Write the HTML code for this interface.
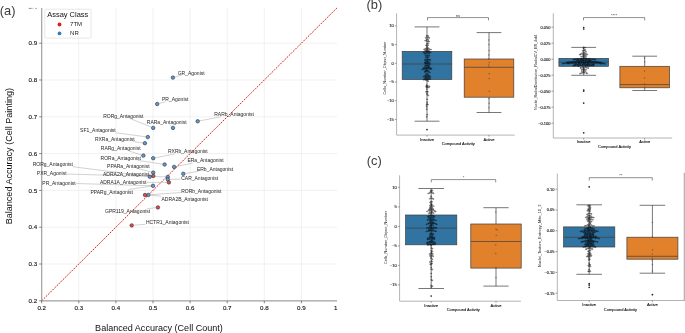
<!DOCTYPE html>
<html><head><meta charset="utf-8"><style>
html,body{margin:0;padding:0;background:#fff;width:685px;height:333px;overflow:hidden}
svg{display:block;font-family:"Liberation Sans", sans-serif;will-change:transform}
</style></head><body>
<svg width="685" height="333" viewBox="0 0 685 333">
<line x1="78.80" y1="8.0" x2="78.80" y2="300.8" stroke="#ebebeb" stroke-width="0.7"/>
<line x1="41.7" y1="264.00" x2="337.0" y2="264.00" stroke="#ebebeb" stroke-width="0.7"/>
<line x1="115.90" y1="8.0" x2="115.90" y2="300.8" stroke="#ebebeb" stroke-width="0.7"/>
<line x1="41.7" y1="227.20" x2="337.0" y2="227.20" stroke="#ebebeb" stroke-width="0.7"/>
<line x1="153.00" y1="8.0" x2="153.00" y2="300.8" stroke="#ebebeb" stroke-width="0.7"/>
<line x1="41.7" y1="190.40" x2="337.0" y2="190.40" stroke="#ebebeb" stroke-width="0.7"/>
<line x1="190.10" y1="8.0" x2="190.10" y2="300.8" stroke="#ebebeb" stroke-width="0.7"/>
<line x1="41.7" y1="153.60" x2="337.0" y2="153.60" stroke="#ebebeb" stroke-width="0.7"/>
<line x1="227.20" y1="8.0" x2="227.20" y2="300.8" stroke="#ebebeb" stroke-width="0.7"/>
<line x1="41.7" y1="116.80" x2="337.0" y2="116.80" stroke="#ebebeb" stroke-width="0.7"/>
<line x1="264.30" y1="8.0" x2="264.30" y2="300.8" stroke="#ebebeb" stroke-width="0.7"/>
<line x1="41.7" y1="80.00" x2="337.0" y2="80.00" stroke="#ebebeb" stroke-width="0.7"/>
<line x1="301.40" y1="8.0" x2="301.40" y2="300.8" stroke="#ebebeb" stroke-width="0.7"/>
<line x1="41.7" y1="43.20" x2="337.0" y2="43.20" stroke="#ebebeb" stroke-width="0.7"/>
<line x1="41.7" y1="300.8" x2="337.0" y2="7.89" stroke="#e41a1c" stroke-width="1.0" stroke-dasharray="1.9,1.1"/>
<line x1="41.7" y1="8.0" x2="41.7" y2="301.40000000000003" stroke="#a0a0a0" stroke-width="1.2"/>
<line x1="41.1" y1="300.8" x2="337.0" y2="300.8" stroke="#a0a0a0" stroke-width="1.2"/>
<line x1="39.2" y1="300.80" x2="41.7" y2="300.80" stroke="#555" stroke-width="0.7"/>
<text x="37.10" y="303.00" font-size="6.2" text-anchor="end" fill="#111" stroke="#111" stroke-width="0.12">0.2</text>
<line x1="41.70" y1="300.8" x2="41.70" y2="303.3" stroke="#555" stroke-width="0.7"/>
<text x="41.70" y="309.80" font-size="6.2" text-anchor="middle" fill="#111" stroke="#111" stroke-width="0.12">0.2</text>
<line x1="39.2" y1="264.00" x2="41.7" y2="264.00" stroke="#555" stroke-width="0.7"/>
<text x="37.10" y="266.20" font-size="6.2" text-anchor="end" fill="#111" stroke="#111" stroke-width="0.12">0.3</text>
<line x1="78.80" y1="300.8" x2="78.80" y2="303.3" stroke="#555" stroke-width="0.7"/>
<text x="78.80" y="309.80" font-size="6.2" text-anchor="middle" fill="#111" stroke="#111" stroke-width="0.12">0.3</text>
<line x1="39.2" y1="227.20" x2="41.7" y2="227.20" stroke="#555" stroke-width="0.7"/>
<text x="37.10" y="229.40" font-size="6.2" text-anchor="end" fill="#111" stroke="#111" stroke-width="0.12">0.4</text>
<line x1="115.90" y1="300.8" x2="115.90" y2="303.3" stroke="#555" stroke-width="0.7"/>
<text x="115.90" y="309.80" font-size="6.2" text-anchor="middle" fill="#111" stroke="#111" stroke-width="0.12">0.4</text>
<line x1="39.2" y1="190.40" x2="41.7" y2="190.40" stroke="#555" stroke-width="0.7"/>
<text x="37.10" y="192.60" font-size="6.2" text-anchor="end" fill="#111" stroke="#111" stroke-width="0.12">0.5</text>
<line x1="153.00" y1="300.8" x2="153.00" y2="303.3" stroke="#555" stroke-width="0.7"/>
<text x="153.00" y="309.80" font-size="6.2" text-anchor="middle" fill="#111" stroke="#111" stroke-width="0.12">0.5</text>
<line x1="39.2" y1="153.60" x2="41.7" y2="153.60" stroke="#555" stroke-width="0.7"/>
<text x="37.10" y="155.80" font-size="6.2" text-anchor="end" fill="#111" stroke="#111" stroke-width="0.12">0.6</text>
<line x1="190.10" y1="300.8" x2="190.10" y2="303.3" stroke="#555" stroke-width="0.7"/>
<text x="190.10" y="309.80" font-size="6.2" text-anchor="middle" fill="#111" stroke="#111" stroke-width="0.12">0.6</text>
<line x1="39.2" y1="116.80" x2="41.7" y2="116.80" stroke="#555" stroke-width="0.7"/>
<text x="37.10" y="119.00" font-size="6.2" text-anchor="end" fill="#111" stroke="#111" stroke-width="0.12">0.7</text>
<line x1="227.20" y1="300.8" x2="227.20" y2="303.3" stroke="#555" stroke-width="0.7"/>
<text x="227.20" y="309.80" font-size="6.2" text-anchor="middle" fill="#111" stroke="#111" stroke-width="0.12">0.7</text>
<line x1="39.2" y1="80.00" x2="41.7" y2="80.00" stroke="#555" stroke-width="0.7"/>
<text x="37.10" y="82.20" font-size="6.2" text-anchor="end" fill="#111" stroke="#111" stroke-width="0.12">0.8</text>
<line x1="264.30" y1="300.8" x2="264.30" y2="303.3" stroke="#555" stroke-width="0.7"/>
<text x="264.30" y="309.80" font-size="6.2" text-anchor="middle" fill="#111" stroke="#111" stroke-width="0.12">0.8</text>
<line x1="39.2" y1="43.20" x2="41.7" y2="43.20" stroke="#555" stroke-width="0.7"/>
<text x="37.10" y="45.40" font-size="6.2" text-anchor="end" fill="#111" stroke="#111" stroke-width="0.12">0.9</text>
<line x1="301.40" y1="300.8" x2="301.40" y2="303.3" stroke="#555" stroke-width="0.7"/>
<text x="301.40" y="309.80" font-size="6.2" text-anchor="middle" fill="#111" stroke="#111" stroke-width="0.12">0.9</text>
<clipPath id="ca"><rect x="0" y="0" width="337.3" height="333"/></clipPath><text clip-path="url(#ca)" x="338.20" y="309.80" font-size="6.2" text-anchor="middle" fill="#111" stroke="#111" stroke-width="0.12">1.0</text>
<rect x="28.8" y="7.9" width="2.9" height="0.9" fill="#808080"/><rect x="31.7" y="7.9" width="2.2" height="0.9" fill="#d0d0d0"/><rect x="35.1" y="7.9" width="1.8" height="0.9" fill="#a0a0a0"/>
<text x="95.1" y="331" font-size="9.05" fill="#111">Balanced Accuracy (Cell Count)</text>
<text transform="translate(12.4,224.3) rotate(-90)" font-size="9.05" fill="#111">Balanced Accuracy (Cell Painting)</text>
<text x="-0.2" y="14.7" font-size="12.8" fill="#3a3a3a">(a)</text>
<line x1="181.48" y1="75.30" x2="174.83" y2="77.08" stroke="#9a9a9a" stroke-width="0.45"/>
<line x1="165.45" y1="101.80" x2="159.13" y2="103.48" stroke="#9a9a9a" stroke-width="0.45"/>
<line x1="129.76" y1="118.40" x2="151.35" y2="127.15" stroke="#9a9a9a" stroke-width="0.45"/>
<line x1="169.46" y1="124.60" x2="171.54" y2="126.54" stroke="#9a9a9a" stroke-width="0.45"/>
<line x1="220.75" y1="116.80" x2="199.66" y2="120.92" stroke="#9a9a9a" stroke-width="0.45"/>
<line x1="116.18" y1="132.79" x2="145.82" y2="136.83" stroke="#9a9a9a" stroke-width="0.45"/>
<line x1="132.99" y1="141.50" x2="142.92" y2="142.92" stroke="#9a9a9a" stroke-width="0.45"/>
<line x1="128.77" y1="150.90" x2="141.50" y2="154.99" stroke="#9a9a9a" stroke-width="0.45"/>
<line x1="174.62" y1="154.00" x2="155.16" y2="157.82" stroke="#9a9a9a" stroke-width="0.45"/>
<line x1="137.52" y1="160.30" x2="162.62" y2="164.19" stroke="#9a9a9a" stroke-width="0.45"/>
<line x1="192.72" y1="163.10" x2="176.06" y2="166.50" stroke="#9a9a9a" stroke-width="0.45"/>
<line x1="198.50" y1="171.40" x2="185.28" y2="173.49" stroke="#9a9a9a" stroke-width="0.45"/>
<line x1="72.85" y1="166.70" x2="147.82" y2="176.44" stroke="#9a9a9a" stroke-width="0.45"/>
<line x1="137.97" y1="168.50" x2="151.27" y2="172.08" stroke="#9a9a9a" stroke-width="0.45"/>
<line x1="67.04" y1="174.04" x2="165.80" y2="176.84" stroke="#9a9a9a" stroke-width="0.45"/>
<line x1="149.91" y1="175.66" x2="151.30" y2="175.76" stroke="#9a9a9a" stroke-width="0.45"/>
<line x1="180.70" y1="179.14" x2="169.80" y2="179.44" stroke="#9a9a9a" stroke-width="0.45"/>
<line x1="76.15" y1="183.51" x2="151.00" y2="185.74" stroke="#9a9a9a" stroke-width="0.45"/>
<line x1="146.81" y1="182.40" x2="166.90" y2="182.40" stroke="#9a9a9a" stroke-width="0.45"/>
<line x1="180.70" y1="192.52" x2="150.29" y2="194.75" stroke="#9a9a9a" stroke-width="0.45"/>
<line x1="128.70" y1="189.50" x2="151.02" y2="186.10" stroke="#9a9a9a" stroke-width="0.45"/>
<line x1="161.00" y1="196.26" x2="150.29" y2="195.11" stroke="#9a9a9a" stroke-width="0.45"/>
<line x1="146.82" y1="208.90" x2="155.92" y2="207.67" stroke="#9a9a9a" stroke-width="0.45"/>
<line x1="145.40" y1="224.29" x2="133.69" y2="225.24" stroke="#9a9a9a" stroke-width="0.45"/>
<circle cx="172.9" cy="77.6" r="1.75" fill="#5b9bd5" stroke="#2b2b2b" stroke-width="0.6"/>
<circle cx="157.2" cy="104.0" r="1.75" fill="#5b9bd5" stroke="#2b2b2b" stroke-width="0.6"/>
<circle cx="153.2" cy="127.9" r="1.75" fill="#5b9bd5" stroke="#2b2b2b" stroke-width="0.6"/>
<circle cx="173.0" cy="127.9" r="1.75" fill="#5b9bd5" stroke="#2b2b2b" stroke-width="0.6"/>
<circle cx="197.7" cy="121.3" r="1.75" fill="#5b9bd5" stroke="#2b2b2b" stroke-width="0.6"/>
<circle cx="147.8" cy="137.1" r="1.75" fill="#5b9bd5" stroke="#2b2b2b" stroke-width="0.6"/>
<circle cx="144.9" cy="143.2" r="1.75" fill="#5b9bd5" stroke="#2b2b2b" stroke-width="0.6"/>
<circle cx="143.4" cy="155.6" r="1.75" fill="#5b9bd5" stroke="#2b2b2b" stroke-width="0.6"/>
<circle cx="153.2" cy="158.2" r="1.75" fill="#5b9bd5" stroke="#2b2b2b" stroke-width="0.6"/>
<circle cx="164.6" cy="164.5" r="1.75" fill="#5b9bd5" stroke="#2b2b2b" stroke-width="0.6"/>
<circle cx="174.1" cy="166.9" r="1.75" fill="#5b9bd5" stroke="#2b2b2b" stroke-width="0.6"/>
<circle cx="183.3" cy="173.8" r="1.75" fill="#5b9bd5" stroke="#2b2b2b" stroke-width="0.6"/>
<circle cx="153.2" cy="172.6" r="1.75" fill="#5b9bd5" stroke="#2b2b2b" stroke-width="0.6"/>
<circle cx="149.8" cy="176.7" r="1.75" fill="#5b9bd5" stroke="#2b2b2b" stroke-width="0.6"/>
<circle cx="167.8" cy="176.9" r="1.75" fill="#5b9bd5" stroke="#2b2b2b" stroke-width="0.6"/>
<circle cx="167.8" cy="179.5" r="1.75" fill="#5b9bd5" stroke="#2b2b2b" stroke-width="0.6"/>
<circle cx="153.0" cy="185.8" r="1.75" fill="#5b9bd5" stroke="#2b2b2b" stroke-width="0.6"/>
<circle cx="148.3" cy="194.9" r="1.75" fill="#5b9bd5" stroke="#2b2b2b" stroke-width="0.6"/>
<circle cx="153.3" cy="175.9" r="1.75" fill="#e8474c" stroke="#2b2b2b" stroke-width="0.6"/>
<circle cx="168.9" cy="182.4" r="1.75" fill="#e8474c" stroke="#2b2b2b" stroke-width="0.6"/>
<circle cx="145.0" cy="195.0" r="1.75" fill="#e8474c" stroke="#2b2b2b" stroke-width="0.6"/>
<circle cx="157.9" cy="207.4" r="1.75" fill="#e8474c" stroke="#2b2b2b" stroke-width="0.6"/>
<circle cx="131.7" cy="225.4" r="1.75" fill="#e8474c" stroke="#2b2b2b" stroke-width="0.6"/>
<text x="177.70" y="74.50" font-size="5.0" fill="#262626">GR_Agonist</text>
<text x="162.00" y="101.00" font-size="5.0" fill="#262626">PR_Agonist</text>
<text x="103.20" y="117.60" font-size="5.0" fill="#262626">RORg_Antagonist</text>
<text x="146.80" y="123.80" font-size="5.0" fill="#262626">RARa_Antagonist</text>
<text x="214.20" y="116.00" font-size="5.0" fill="#262626">RARb_Antagonist</text>
<text x="80.10" y="132.10" font-size="5.0" fill="#262626">SF1_Antagonist</text>
<text x="94.90" y="140.70" font-size="5.0" fill="#262626">RXRa_Antagonist</text>
<text x="100.80" y="150.10" font-size="5.0" fill="#262626">RARg_Antagonist</text>
<text x="168.00" y="153.20" font-size="5.0" fill="#262626">RXRb_Antagonist</text>
<text x="100.60" y="159.50" font-size="5.0" fill="#262626">RORa_Antagonist</text>
<text x="187.40" y="162.30" font-size="5.0" fill="#262626">ERa_Antagonist</text>
<text x="196.90" y="170.60" font-size="5.0" fill="#262626">ERb_Antagonist</text>
<text x="32.70" y="165.90" font-size="5.0" fill="#262626">RORg_Antagonist</text>
<text x="107.10" y="167.70" font-size="5.0" fill="#262626">PPARa_Antagonist</text>
<text x="36.80" y="175.40" font-size="5.0" fill="#262626">PXR_Agonist</text>
<text x="103.00" y="175.80" font-size="5.0" fill="#262626">ADRA2A_Antagonist</text>
<text x="181.20" y="180.40" font-size="5.0" fill="#262626">CAR_Antagonist</text>
<text x="42.30" y="184.80" font-size="5.0" fill="#262626">PR_Antagonist</text>
<text x="99.90" y="184.20" font-size="5.0" fill="#262626">ADRA1A_Antagonist</text>
<text x="181.20" y="192.80" font-size="5.0" fill="#262626">RORb_Antagonist</text>
<text x="90.40" y="193.90" font-size="5.0" fill="#262626">PPARg_Antagonist</text>
<text x="161.50" y="200.60" font-size="5.0" fill="#262626">ADRA2B_Antagonist</text>
<text x="105.00" y="213.30" font-size="5.0" fill="#262626">GPR119_Antagonist</text>
<text x="145.90" y="224.30" font-size="5.0" fill="#262626">HCTR1_Antagonist</text>
<rect x="44.8" y="9.2" width="46.3" height="28.9" rx="1" fill="#fff" fill-opacity="0.85" stroke="#dcdcdc" stroke-width="0.7"/>
<text x="47.2" y="17.0" font-size="7.47" fill="#111">Assay Class</text>
<circle cx="59.5" cy="24.5" r="1.9" fill="#e41a1c"/>
<circle cx="59.5" cy="33.4" r="1.9" fill="#377eb8"/>
<text x="70.1" y="26.4" font-size="6.0" fill="#222">7TM</text>
<text x="70.1" y="35.3" font-size="6.0" fill="#222">NR</text>
<line x1="396.6" y1="13.2" x2="396.6" y2="135.1" stroke="#ababab" stroke-width="0.9"/>
<line x1="396.6" y1="135.1" x2="514.7" y2="135.1" stroke="#ababab" stroke-width="0.9"/>
<line x1="394.8" y1="25.9" x2="396.6" y2="25.9" stroke="#444" stroke-width="0.5"/>
<text x="393.8" y="27.299999999999997" font-size="4.0" text-anchor="end" fill="#111" stroke="#111" stroke-width="0.1">10</text>
<line x1="394.8" y1="44.6" x2="396.6" y2="44.6" stroke="#444" stroke-width="0.5"/>
<text x="393.8" y="46.0" font-size="4.0" text-anchor="end" fill="#111" stroke="#111" stroke-width="0.1">5</text>
<line x1="394.8" y1="63.3" x2="396.6" y2="63.3" stroke="#444" stroke-width="0.5"/>
<text x="393.8" y="64.7" font-size="4.0" text-anchor="end" fill="#111" stroke="#111" stroke-width="0.1">0</text>
<line x1="394.8" y1="82.0" x2="396.6" y2="82.0" stroke="#444" stroke-width="0.5"/>
<text x="393.8" y="83.4" font-size="4.0" text-anchor="end" fill="#111" stroke="#111" stroke-width="0.1">−5</text>
<line x1="394.8" y1="100.7" x2="396.6" y2="100.7" stroke="#444" stroke-width="0.5"/>
<text x="393.8" y="102.10000000000001" font-size="4.0" text-anchor="end" fill="#111" stroke="#111" stroke-width="0.1">−10</text>
<line x1="394.8" y1="119.4" x2="396.6" y2="119.4" stroke="#444" stroke-width="0.5"/>
<text x="393.8" y="120.80000000000001" font-size="4.0" text-anchor="end" fill="#111" stroke="#111" stroke-width="0.1">−15</text>
<line x1="427" y1="26.9" x2="427" y2="51.4" stroke="#3d3d3d" stroke-width="0.7"/>
<line x1="427" y1="79.5" x2="427" y2="121.2" stroke="#3d3d3d" stroke-width="0.7"/>
<line x1="414.6" y1="26.9" x2="439.4" y2="26.9" stroke="#3d3d3d" stroke-width="0.7"/>
<line x1="414.6" y1="121.2" x2="439.4" y2="121.2" stroke="#3d3d3d" stroke-width="0.7"/>
<rect x="402.2" y="51.4" width="49.6" height="28.1" fill="#3274a1" stroke="#3d3d3d" stroke-width="0.7"/>
<line x1="402.2" y1="64.0" x2="451.8" y2="64.0" stroke="#3d3d3d" stroke-width="0.7"/>
<circle cx="426.92" cy="35.63" r="0.5" fill="none" stroke="#000" stroke-width="0.42"/>
<circle cx="428.32" cy="36.12" r="0.5" fill="none" stroke="#000" stroke-width="0.42"/>
<circle cx="426.97" cy="36.93" r="0.5" fill="none" stroke="#000" stroke-width="0.42"/>
<circle cx="428.33" cy="37.73" r="0.5" fill="none" stroke="#000" stroke-width="0.42"/>
<circle cx="425.68" cy="37.76" r="0.5" fill="none" stroke="#000" stroke-width="0.42"/>
<circle cx="429.22" cy="37.96" r="0.5" fill="none" stroke="#000" stroke-width="0.42"/>
<circle cx="427.08" cy="39.01" r="0.5" fill="none" stroke="#000" stroke-width="0.42"/>
<circle cx="428.34" cy="39.97" r="0.5" fill="none" stroke="#000" stroke-width="0.42"/>
<circle cx="426.40" cy="40.03" r="0.5" fill="none" stroke="#000" stroke-width="0.42"/>
<circle cx="425.14" cy="40.67" r="0.5" fill="none" stroke="#000" stroke-width="0.42"/>
<circle cx="426.81" cy="41.24" r="0.5" fill="none" stroke="#000" stroke-width="0.42"/>
<circle cx="428.16" cy="41.44" r="0.5" fill="none" stroke="#000" stroke-width="0.42"/>
<circle cx="429.15" cy="41.57" r="0.5" fill="none" stroke="#000" stroke-width="0.42"/>
<circle cx="427.15" cy="43.45" r="0.5" fill="none" stroke="#000" stroke-width="0.42"/>
<circle cx="428.32" cy="43.46" r="0.5" fill="none" stroke="#000" stroke-width="0.42"/>
<circle cx="426.84" cy="44.96" r="0.5" fill="none" stroke="#000" stroke-width="0.42"/>
<circle cx="428.04" cy="45.19" r="0.5" fill="none" stroke="#000" stroke-width="0.42"/>
<circle cx="426.00" cy="45.38" r="0.5" fill="none" stroke="#000" stroke-width="0.42"/>
<circle cx="427.07" cy="46.81" r="0.5" fill="none" stroke="#000" stroke-width="0.42"/>
<circle cx="427.73" cy="47.84" r="0.5" fill="none" stroke="#000" stroke-width="0.42"/>
<circle cx="426.35" cy="48.14" r="0.5" fill="none" stroke="#000" stroke-width="0.42"/>
<circle cx="428.54" cy="48.55" r="0.5" fill="none" stroke="#000" stroke-width="0.42"/>
<circle cx="425.17" cy="48.81" r="0.5" fill="none" stroke="#000" stroke-width="0.42"/>
<circle cx="427.72" cy="49.03" r="0.5" fill="none" stroke="#000" stroke-width="0.42"/>
<circle cx="429.76" cy="49.28" r="0.5" fill="none" stroke="#000" stroke-width="0.42"/>
<circle cx="426.35" cy="49.31" r="0.5" fill="none" stroke="#000" stroke-width="0.42"/>
<circle cx="424.08" cy="49.45" r="0.5" fill="none" stroke="#000" stroke-width="0.42"/>
<circle cx="430.98" cy="49.55" r="0.5" fill="none" stroke="#000" stroke-width="0.42"/>
<circle cx="427.53" cy="50.19" r="0.5" fill="none" stroke="#000" stroke-width="0.42"/>
<circle cx="428.94" cy="50.21" r="0.5" fill="none" stroke="#000" stroke-width="0.42"/>
<circle cx="425.10" cy="50.27" r="0.5" fill="none" stroke="#000" stroke-width="0.42"/>
<circle cx="426.18" cy="50.53" r="0.5" fill="none" stroke="#000" stroke-width="0.42"/>
<circle cx="428.37" cy="51.33" r="0.5" fill="none" stroke="#000" stroke-width="0.42"/>
<circle cx="427.19" cy="51.58" r="0.5" fill="none" stroke="#000" stroke-width="0.42"/>
<circle cx="426.09" cy="51.64" r="0.5" fill="none" stroke="#000" stroke-width="0.42"/>
<circle cx="429.27" cy="51.91" r="0.5" fill="none" stroke="#000" stroke-width="0.42"/>
<circle cx="424.93" cy="52.23" r="0.5" fill="none" stroke="#000" stroke-width="0.42"/>
<circle cx="430.66" cy="52.28" r="0.5" fill="none" stroke="#000" stroke-width="0.42"/>
<circle cx="423.41" cy="52.30" r="0.5" fill="none" stroke="#000" stroke-width="0.42"/>
<circle cx="427.12" cy="52.74" r="0.5" fill="none" stroke="#000" stroke-width="0.42"/>
<circle cx="428.32" cy="52.84" r="0.5" fill="none" stroke="#000" stroke-width="0.42"/>
<circle cx="425.93" cy="53.23" r="0.5" fill="none" stroke="#000" stroke-width="0.42"/>
<circle cx="429.31" cy="53.57" r="0.5" fill="none" stroke="#000" stroke-width="0.42"/>
<circle cx="424.59" cy="53.83" r="0.5" fill="none" stroke="#000" stroke-width="0.42"/>
<circle cx="426.92" cy="54.94" r="0.5" fill="none" stroke="#000" stroke-width="0.42"/>
<circle cx="428.01" cy="55.37" r="0.5" fill="none" stroke="#000" stroke-width="0.42"/>
<circle cx="425.63" cy="55.53" r="0.5" fill="none" stroke="#000" stroke-width="0.42"/>
<circle cx="429.34" cy="55.73" r="0.5" fill="none" stroke="#000" stroke-width="0.42"/>
<circle cx="426.89" cy="56.72" r="0.5" fill="none" stroke="#000" stroke-width="0.42"/>
<circle cx="428.31" cy="57.12" r="0.5" fill="none" stroke="#000" stroke-width="0.42"/>
<circle cx="425.62" cy="57.29" r="0.5" fill="none" stroke="#000" stroke-width="0.42"/>
<circle cx="427.20" cy="57.89" r="0.5" fill="none" stroke="#000" stroke-width="0.42"/>
<circle cx="427.10" cy="59.26" r="0.5" fill="none" stroke="#000" stroke-width="0.42"/>
<circle cx="428.36" cy="59.52" r="0.5" fill="none" stroke="#000" stroke-width="0.42"/>
<circle cx="426.05" cy="59.73" r="0.5" fill="none" stroke="#000" stroke-width="0.42"/>
<circle cx="429.50" cy="59.73" r="0.5" fill="none" stroke="#000" stroke-width="0.42"/>
<circle cx="424.74" cy="59.98" r="0.5" fill="none" stroke="#000" stroke-width="0.42"/>
<circle cx="430.21" cy="60.10" r="0.5" fill="none" stroke="#000" stroke-width="0.42"/>
<circle cx="427.12" cy="60.60" r="0.5" fill="none" stroke="#000" stroke-width="0.42"/>
<circle cx="427.99" cy="61.18" r="0.5" fill="none" stroke="#000" stroke-width="0.42"/>
<circle cx="425.75" cy="61.22" r="0.5" fill="none" stroke="#000" stroke-width="0.42"/>
<circle cx="427.08" cy="61.96" r="0.5" fill="none" stroke="#000" stroke-width="0.42"/>
<circle cx="428.74" cy="62.19" r="0.5" fill="none" stroke="#000" stroke-width="0.42"/>
<circle cx="425.81" cy="62.45" r="0.5" fill="none" stroke="#000" stroke-width="0.42"/>
<circle cx="424.92" cy="62.83" r="0.5" fill="none" stroke="#000" stroke-width="0.42"/>
<circle cx="429.93" cy="62.90" r="0.5" fill="none" stroke="#000" stroke-width="0.42"/>
<circle cx="427.50" cy="63.04" r="0.5" fill="none" stroke="#000" stroke-width="0.42"/>
<circle cx="426.30" cy="63.50" r="0.5" fill="none" stroke="#000" stroke-width="0.42"/>
<circle cx="428.91" cy="63.65" r="0.5" fill="none" stroke="#000" stroke-width="0.42"/>
<circle cx="425.26" cy="63.89" r="0.5" fill="none" stroke="#000" stroke-width="0.42"/>
<circle cx="427.72" cy="64.35" r="0.5" fill="none" stroke="#000" stroke-width="0.42"/>
<circle cx="429.80" cy="64.52" r="0.5" fill="none" stroke="#000" stroke-width="0.42"/>
<circle cx="426.85" cy="65.66" r="0.5" fill="none" stroke="#000" stroke-width="0.42"/>
<circle cx="428.17" cy="65.70" r="0.5" fill="none" stroke="#000" stroke-width="0.42"/>
<circle cx="426.01" cy="65.71" r="0.5" fill="none" stroke="#000" stroke-width="0.42"/>
<circle cx="429.14" cy="66.08" r="0.5" fill="none" stroke="#000" stroke-width="0.42"/>
<circle cx="424.85" cy="66.11" r="0.5" fill="none" stroke="#000" stroke-width="0.42"/>
<circle cx="427.21" cy="66.90" r="0.5" fill="none" stroke="#000" stroke-width="0.42"/>
<circle cx="428.30" cy="67.22" r="0.5" fill="none" stroke="#000" stroke-width="0.42"/>
<circle cx="426.01" cy="67.50" r="0.5" fill="none" stroke="#000" stroke-width="0.42"/>
<circle cx="429.05" cy="67.63" r="0.5" fill="none" stroke="#000" stroke-width="0.42"/>
<circle cx="424.76" cy="67.82" r="0.5" fill="none" stroke="#000" stroke-width="0.42"/>
<circle cx="430.63" cy="67.94" r="0.5" fill="none" stroke="#000" stroke-width="0.42"/>
<circle cx="423.32" cy="67.97" r="0.5" fill="none" stroke="#000" stroke-width="0.42"/>
<circle cx="426.89" cy="68.27" r="0.5" fill="none" stroke="#000" stroke-width="0.42"/>
<circle cx="428.03" cy="68.39" r="0.5" fill="none" stroke="#000" stroke-width="0.42"/>
<circle cx="425.86" cy="68.70" r="0.5" fill="none" stroke="#000" stroke-width="0.42"/>
<circle cx="429.26" cy="68.82" r="0.5" fill="none" stroke="#000" stroke-width="0.42"/>
<circle cx="431.59" cy="68.86" r="0.5" fill="none" stroke="#000" stroke-width="0.42"/>
<circle cx="424.84" cy="68.98" r="0.5" fill="none" stroke="#000" stroke-width="0.42"/>
<circle cx="430.20" cy="69.17" r="0.5" fill="none" stroke="#000" stroke-width="0.42"/>
<circle cx="423.33" cy="69.19" r="0.5" fill="none" stroke="#000" stroke-width="0.42"/>
<circle cx="422.21" cy="69.33" r="0.5" fill="none" stroke="#000" stroke-width="0.42"/>
<circle cx="426.81" cy="69.67" r="0.5" fill="none" stroke="#000" stroke-width="0.42"/>
<circle cx="427.93" cy="70.47" r="0.5" fill="none" stroke="#000" stroke-width="0.42"/>
<circle cx="426.66" cy="70.70" r="0.5" fill="none" stroke="#000" stroke-width="0.42"/>
<circle cx="425.45" cy="70.78" r="0.5" fill="none" stroke="#000" stroke-width="0.42"/>
<circle cx="427.37" cy="71.50" r="0.5" fill="none" stroke="#000" stroke-width="0.42"/>
<circle cx="428.73" cy="71.70" r="0.5" fill="none" stroke="#000" stroke-width="0.42"/>
<circle cx="425.76" cy="71.83" r="0.5" fill="none" stroke="#000" stroke-width="0.42"/>
<circle cx="424.61" cy="71.89" r="0.5" fill="none" stroke="#000" stroke-width="0.42"/>
<circle cx="429.80" cy="72.40" r="0.5" fill="none" stroke="#000" stroke-width="0.42"/>
<circle cx="427.07" cy="73.29" r="0.5" fill="none" stroke="#000" stroke-width="0.42"/>
<circle cx="428.19" cy="74.22" r="0.5" fill="none" stroke="#000" stroke-width="0.42"/>
<circle cx="425.78" cy="74.23" r="0.5" fill="none" stroke="#000" stroke-width="0.42"/>
<circle cx="426.85" cy="75.12" r="0.5" fill="none" stroke="#000" stroke-width="0.42"/>
<circle cx="428.06" cy="75.76" r="0.5" fill="none" stroke="#000" stroke-width="0.42"/>
<circle cx="425.66" cy="75.84" r="0.5" fill="none" stroke="#000" stroke-width="0.42"/>
<circle cx="429.33" cy="75.96" r="0.5" fill="none" stroke="#000" stroke-width="0.42"/>
<circle cx="424.81" cy="76.17" r="0.5" fill="none" stroke="#000" stroke-width="0.42"/>
<circle cx="426.94" cy="76.31" r="0.5" fill="none" stroke="#000" stroke-width="0.42"/>
<circle cx="430.24" cy="76.49" r="0.5" fill="none" stroke="#000" stroke-width="0.42"/>
<circle cx="423.39" cy="76.55" r="0.5" fill="none" stroke="#000" stroke-width="0.42"/>
<circle cx="428.09" cy="77.00" r="0.5" fill="none" stroke="#000" stroke-width="0.42"/>
<circle cx="425.90" cy="77.22" r="0.5" fill="none" stroke="#000" stroke-width="0.42"/>
<circle cx="429.44" cy="77.24" r="0.5" fill="none" stroke="#000" stroke-width="0.42"/>
<circle cx="426.94" cy="77.94" r="0.5" fill="none" stroke="#000" stroke-width="0.42"/>
<circle cx="424.85" cy="78.13" r="0.5" fill="none" stroke="#000" stroke-width="0.42"/>
<circle cx="428.21" cy="78.28" r="0.5" fill="none" stroke="#000" stroke-width="0.42"/>
<circle cx="425.82" cy="78.80" r="0.5" fill="none" stroke="#000" stroke-width="0.42"/>
<circle cx="429.24" cy="78.97" r="0.5" fill="none" stroke="#000" stroke-width="0.42"/>
<circle cx="430.45" cy="79.00" r="0.5" fill="none" stroke="#000" stroke-width="0.42"/>
<circle cx="427.10" cy="79.36" r="0.5" fill="none" stroke="#000" stroke-width="0.42"/>
<circle cx="428.11" cy="79.44" r="0.5" fill="none" stroke="#000" stroke-width="0.42"/>
<circle cx="424.80" cy="79.70" r="0.5" fill="none" stroke="#000" stroke-width="0.42"/>
<circle cx="423.53" cy="79.74" r="0.5" fill="none" stroke="#000" stroke-width="0.42"/>
<circle cx="425.72" cy="79.96" r="0.5" fill="none" stroke="#000" stroke-width="0.42"/>
<circle cx="427.02" cy="80.54" r="0.5" fill="none" stroke="#000" stroke-width="0.42"/>
<circle cx="428.25" cy="81.21" r="0.5" fill="none" stroke="#000" stroke-width="0.42"/>
<circle cx="426.79" cy="85.02" r="0.5" fill="none" stroke="#000" stroke-width="0.42"/>
<circle cx="428.11" cy="86.01" r="0.5" fill="none" stroke="#000" stroke-width="0.42"/>
<circle cx="426.96" cy="86.20" r="0.5" fill="none" stroke="#000" stroke-width="0.42"/>
<circle cx="426.04" cy="86.25" r="0.5" fill="none" stroke="#000" stroke-width="0.42"/>
<circle cx="429.52" cy="86.40" r="0.5" fill="none" stroke="#000" stroke-width="0.42"/>
<circle cx="427.51" cy="87.28" r="0.5" fill="none" stroke="#000" stroke-width="0.42"/>
<circle cx="426.62" cy="87.38" r="0.5" fill="none" stroke="#000" stroke-width="0.42"/>
<circle cx="428.87" cy="87.54" r="0.5" fill="none" stroke="#000" stroke-width="0.42"/>
<circle cx="426.88" cy="89.13" r="0.5" fill="none" stroke="#000" stroke-width="0.42"/>
<circle cx="426.98" cy="91.39" r="0.5" fill="none" stroke="#000" stroke-width="0.42"/>
<circle cx="427.96" cy="91.85" r="0.5" fill="none" stroke="#000" stroke-width="0.42"/>
<circle cx="426.01" cy="91.91" r="0.5" fill="none" stroke="#000" stroke-width="0.42"/>
<circle cx="427.08" cy="93.52" r="0.5" fill="none" stroke="#000" stroke-width="0.42"/>
<circle cx="427.19" cy="94.70" r="0.5" fill="none" stroke="#000" stroke-width="0.42"/>
<circle cx="428.30" cy="95.45" r="0.5" fill="none" stroke="#000" stroke-width="0.42"/>
<circle cx="427.08" cy="99.27" r="0.5" fill="none" stroke="#000" stroke-width="0.42"/>
<circle cx="427.12" cy="102.14" r="0.5" fill="none" stroke="#000" stroke-width="0.42"/>
<circle cx="427.03" cy="103.94" r="0.5" fill="none" stroke="#000" stroke-width="0.42"/>
<circle cx="427.95" cy="104.67" r="0.5" fill="none" stroke="#000" stroke-width="0.42"/>
<circle cx="426.47" cy="105.01" r="0.5" fill="none" stroke="#000" stroke-width="0.42"/>
<circle cx="426.75" cy="106.76" r="0.5" fill="none" stroke="#000" stroke-width="0.42"/>
<circle cx="426.82" cy="109.14" r="0.5" fill="none" stroke="#000" stroke-width="0.42"/>
<circle cx="427.14" cy="114.66" r="0.5" fill="none" stroke="#000" stroke-width="0.42"/>
<circle cx="426.77" cy="116.88" r="0.5" fill="none" stroke="#000" stroke-width="0.42"/>
<circle cx="427" cy="129.6" r="0.85" fill="#222"/>
<text x="427" y="140.5" font-size="4.0" text-anchor="middle" fill="#111" stroke="#111" stroke-width="0.1">Inactive</text>
<line x1="427" y1="135.1" x2="427" y2="136.7" stroke="#444" stroke-width="0.5"/>
<line x1="489" y1="32.6" x2="489" y2="59.0" stroke="#3d3d3d" stroke-width="0.7"/>
<line x1="489" y1="97.2" x2="489" y2="112.5" stroke="#3d3d3d" stroke-width="0.7"/>
<line x1="476.6" y1="32.6" x2="501.4" y2="32.6" stroke="#3d3d3d" stroke-width="0.7"/>
<line x1="476.6" y1="112.5" x2="501.4" y2="112.5" stroke="#3d3d3d" stroke-width="0.7"/>
<rect x="464.2" y="59.0" width="49.6" height="38.2" fill="#e1812c" stroke="#3d3d3d" stroke-width="0.7"/>
<line x1="464.2" y1="67.3" x2="513.8" y2="67.3" stroke="#3d3d3d" stroke-width="0.7"/>
<circle cx="488.80" cy="40.00" r="0.5" fill="none" stroke="#3a3a3a" stroke-width="0.32"/>
<circle cx="488.80" cy="44.60" r="0.5" fill="none" stroke="#3a3a3a" stroke-width="0.32"/>
<circle cx="489.19" cy="50.60" r="0.5" fill="none" stroke="#3a3a3a" stroke-width="0.32"/>
<circle cx="488.84" cy="55.00" r="0.5" fill="none" stroke="#3a3a3a" stroke-width="0.32"/>
<circle cx="488.76" cy="59.00" r="0.5" fill="none" stroke="#3a3a3a" stroke-width="0.32"/>
<circle cx="489.17" cy="62.60" r="0.5" fill="none" stroke="#3a3a3a" stroke-width="0.32"/>
<circle cx="488.81" cy="65.00" r="0.5" fill="none" stroke="#3a3a3a" stroke-width="0.32"/>
<circle cx="489.17" cy="67.10" r="0.5" fill="none" stroke="#3a3a3a" stroke-width="0.32"/>
<circle cx="489.09" cy="73.80" r="0.5" fill="none" stroke="#3a3a3a" stroke-width="0.32"/>
<circle cx="489.17" cy="78.60" r="0.5" fill="none" stroke="#3a3a3a" stroke-width="0.32"/>
<circle cx="489.23" cy="91.20" r="0.5" fill="none" stroke="#3a3a3a" stroke-width="0.32"/>
<circle cx="489.04" cy="98.70" r="0.5" fill="none" stroke="#3a3a3a" stroke-width="0.32"/>
<circle cx="489.15" cy="103.20" r="0.5" fill="none" stroke="#3a3a3a" stroke-width="0.32"/>
<circle cx="488.77" cy="107.70" r="0.5" fill="none" stroke="#3a3a3a" stroke-width="0.32"/>
<text x="489" y="140.5" font-size="4.0" text-anchor="middle" fill="#111" stroke="#111" stroke-width="0.1">Active</text>
<line x1="489" y1="135.1" x2="489" y2="136.7" stroke="#444" stroke-width="0.5"/>
<text x="458.2" y="145.29999999999998" font-size="4.0" text-anchor="middle" fill="#111" stroke="#111" stroke-width="0.1">Compound Activity</text>
<text transform="translate(385.8,68.0) rotate(-90)" font-size="3.8" text-anchor="middle" fill="#222">Cells_Number_Object_Number</text>
<polyline points="427.5,20.400000000000002 427.5,17.6 488.5,17.6 488.5,20.400000000000002" fill="none" stroke="#444" stroke-width="0.6"/>
<text x="458.0" y="16.700000000000003" font-size="4.0" text-anchor="middle" fill="#333">ns</text>
<line x1="553.3" y1="13.2" x2="553.3" y2="138.0" stroke="#ababab" stroke-width="0.9"/>
<line x1="553.3" y1="138.0" x2="672.2" y2="138.0" stroke="#ababab" stroke-width="0.9"/>
<line x1="551.5" y1="27.2" x2="553.3" y2="27.2" stroke="#444" stroke-width="0.5"/>
<text x="550.5" y="28.599999999999998" font-size="4.0" text-anchor="end" fill="#111" stroke="#111" stroke-width="0.1">0.050</text>
<line x1="551.5" y1="43.2" x2="553.3" y2="43.2" stroke="#444" stroke-width="0.5"/>
<text x="550.5" y="44.6" font-size="4.0" text-anchor="end" fill="#111" stroke="#111" stroke-width="0.1">0.025</text>
<line x1="551.5" y1="59.2" x2="553.3" y2="59.2" stroke="#444" stroke-width="0.5"/>
<text x="550.5" y="60.6" font-size="4.0" text-anchor="end" fill="#111" stroke="#111" stroke-width="0.1">0.000</text>
<line x1="551.5" y1="75.2" x2="553.3" y2="75.2" stroke="#444" stroke-width="0.5"/>
<text x="550.5" y="76.60000000000001" font-size="4.0" text-anchor="end" fill="#111" stroke="#111" stroke-width="0.1">−0.025</text>
<line x1="551.5" y1="91.2" x2="553.3" y2="91.2" stroke="#444" stroke-width="0.5"/>
<text x="550.5" y="92.60000000000001" font-size="4.0" text-anchor="end" fill="#111" stroke="#111" stroke-width="0.1">−0.050</text>
<line x1="551.5" y1="107.2" x2="553.3" y2="107.2" stroke="#444" stroke-width="0.5"/>
<text x="550.5" y="108.60000000000001" font-size="4.0" text-anchor="end" fill="#111" stroke="#111" stroke-width="0.1">−0.075</text>
<line x1="551.5" y1="123.2" x2="553.3" y2="123.2" stroke="#444" stroke-width="0.5"/>
<text x="550.5" y="124.60000000000001" font-size="4.0" text-anchor="end" fill="#111" stroke="#111" stroke-width="0.1">−0.100</text>
<line x1="583.7" y1="47.4" x2="583.7" y2="58.4" stroke="#3d3d3d" stroke-width="0.7"/>
<line x1="583.7" y1="66.3" x2="583.7" y2="75.3" stroke="#3d3d3d" stroke-width="0.7"/>
<line x1="571.3000000000001" y1="47.4" x2="596.1" y2="47.4" stroke="#3d3d3d" stroke-width="0.7"/>
<line x1="571.3000000000001" y1="75.3" x2="596.1" y2="75.3" stroke="#3d3d3d" stroke-width="0.7"/>
<rect x="558.9000000000001" y="58.4" width="49.6" height="7.899999999999999" fill="#3274a1" stroke="#3d3d3d" stroke-width="0.7"/>
<line x1="558.9000000000001" y1="62.2" x2="608.5" y2="62.2" stroke="#3d3d3d" stroke-width="0.7"/>
<circle cx="583.58" cy="47.31" r="0.5" fill="none" stroke="#000" stroke-width="0.42"/>
<circle cx="584.99" cy="47.53" r="0.5" fill="none" stroke="#000" stroke-width="0.42"/>
<circle cx="583.47" cy="48.62" r="0.5" fill="none" stroke="#000" stroke-width="0.42"/>
<circle cx="585.00" cy="49.56" r="0.5" fill="none" stroke="#000" stroke-width="0.42"/>
<circle cx="583.90" cy="50.58" r="0.5" fill="none" stroke="#000" stroke-width="0.42"/>
<circle cx="585.07" cy="50.74" r="0.5" fill="none" stroke="#000" stroke-width="0.42"/>
<circle cx="582.49" cy="50.84" r="0.5" fill="none" stroke="#000" stroke-width="0.42"/>
<circle cx="586.03" cy="51.67" r="0.5" fill="none" stroke="#000" stroke-width="0.42"/>
<circle cx="583.74" cy="52.52" r="0.5" fill="none" stroke="#000" stroke-width="0.42"/>
<circle cx="584.92" cy="53.01" r="0.5" fill="none" stroke="#000" stroke-width="0.42"/>
<circle cx="582.79" cy="53.13" r="0.5" fill="none" stroke="#000" stroke-width="0.42"/>
<circle cx="586.09" cy="53.53" r="0.5" fill="none" stroke="#000" stroke-width="0.42"/>
<circle cx="581.30" cy="53.57" r="0.5" fill="none" stroke="#000" stroke-width="0.42"/>
<circle cx="583.88" cy="54.21" r="0.5" fill="none" stroke="#000" stroke-width="0.42"/>
<circle cx="584.84" cy="54.32" r="0.5" fill="none" stroke="#000" stroke-width="0.42"/>
<circle cx="582.60" cy="54.48" r="0.5" fill="none" stroke="#000" stroke-width="0.42"/>
<circle cx="587.26" cy="54.50" r="0.5" fill="none" stroke="#000" stroke-width="0.42"/>
<circle cx="580.58" cy="54.60" r="0.5" fill="none" stroke="#000" stroke-width="0.42"/>
<circle cx="579.81" cy="54.63" r="0.5" fill="none" stroke="#000" stroke-width="0.42"/>
<circle cx="586.08" cy="55.15" r="0.5" fill="none" stroke="#000" stroke-width="0.42"/>
<circle cx="583.70" cy="55.55" r="0.5" fill="none" stroke="#000" stroke-width="0.42"/>
<circle cx="584.86" cy="55.88" r="0.5" fill="none" stroke="#000" stroke-width="0.42"/>
<circle cx="582.53" cy="56.35" r="0.5" fill="none" stroke="#000" stroke-width="0.42"/>
<circle cx="583.55" cy="56.71" r="0.5" fill="none" stroke="#000" stroke-width="0.42"/>
<circle cx="586.01" cy="56.75" r="0.5" fill="none" stroke="#000" stroke-width="0.42"/>
<circle cx="581.17" cy="56.76" r="0.5" fill="none" stroke="#000" stroke-width="0.42"/>
<circle cx="584.85" cy="57.22" r="0.5" fill="none" stroke="#000" stroke-width="0.42"/>
<circle cx="583.77" cy="58.13" r="0.5" fill="none" stroke="#000" stroke-width="0.42"/>
<circle cx="582.52" cy="58.36" r="0.5" fill="none" stroke="#000" stroke-width="0.42"/>
<circle cx="584.88" cy="58.56" r="0.5" fill="none" stroke="#000" stroke-width="0.42"/>
<circle cx="586.23" cy="58.69" r="0.5" fill="none" stroke="#000" stroke-width="0.42"/>
<circle cx="581.60" cy="58.70" r="0.5" fill="none" stroke="#000" stroke-width="0.42"/>
<circle cx="586.97" cy="58.77" r="0.5" fill="none" stroke="#000" stroke-width="0.42"/>
<circle cx="580.40" cy="58.80" r="0.5" fill="none" stroke="#000" stroke-width="0.42"/>
<circle cx="588.36" cy="58.84" r="0.5" fill="none" stroke="#000" stroke-width="0.42"/>
<circle cx="578.88" cy="58.89" r="0.5" fill="none" stroke="#000" stroke-width="0.42"/>
<circle cx="589.38" cy="58.93" r="0.5" fill="none" stroke="#000" stroke-width="0.42"/>
<circle cx="577.82" cy="59.02" r="0.5" fill="none" stroke="#000" stroke-width="0.42"/>
<circle cx="590.39" cy="59.02" r="0.5" fill="none" stroke="#000" stroke-width="0.42"/>
<circle cx="576.82" cy="59.10" r="0.5" fill="none" stroke="#000" stroke-width="0.42"/>
<circle cx="591.96" cy="59.15" r="0.5" fill="none" stroke="#000" stroke-width="0.42"/>
<circle cx="575.56" cy="59.17" r="0.5" fill="none" stroke="#000" stroke-width="0.42"/>
<circle cx="593.09" cy="59.27" r="0.5" fill="none" stroke="#000" stroke-width="0.42"/>
<circle cx="583.80" cy="59.33" r="0.5" fill="none" stroke="#000" stroke-width="0.42"/>
<circle cx="574.32" cy="59.42" r="0.5" fill="none" stroke="#000" stroke-width="0.42"/>
<circle cx="594.23" cy="59.50" r="0.5" fill="none" stroke="#000" stroke-width="0.42"/>
<circle cx="582.60" cy="59.59" r="0.5" fill="none" stroke="#000" stroke-width="0.42"/>
<circle cx="573.56" cy="59.61" r="0.5" fill="none" stroke="#000" stroke-width="0.42"/>
<circle cx="585.53" cy="59.70" r="0.5" fill="none" stroke="#000" stroke-width="0.42"/>
<circle cx="595.32" cy="59.70" r="0.5" fill="none" stroke="#000" stroke-width="0.42"/>
<circle cx="581.32" cy="59.88" r="0.5" fill="none" stroke="#000" stroke-width="0.42"/>
<circle cx="586.73" cy="59.88" r="0.5" fill="none" stroke="#000" stroke-width="0.42"/>
<circle cx="580.47" cy="60.04" r="0.5" fill="none" stroke="#000" stroke-width="0.42"/>
<circle cx="587.91" cy="60.12" r="0.5" fill="none" stroke="#000" stroke-width="0.42"/>
<circle cx="579.07" cy="60.17" r="0.5" fill="none" stroke="#000" stroke-width="0.42"/>
<circle cx="589.00" cy="60.20" r="0.5" fill="none" stroke="#000" stroke-width="0.42"/>
<circle cx="577.94" cy="60.24" r="0.5" fill="none" stroke="#000" stroke-width="0.42"/>
<circle cx="589.83" cy="60.32" r="0.5" fill="none" stroke="#000" stroke-width="0.42"/>
<circle cx="584.05" cy="60.39" r="0.5" fill="none" stroke="#000" stroke-width="0.42"/>
<circle cx="582.91" cy="60.60" r="0.5" fill="none" stroke="#000" stroke-width="0.42"/>
<circle cx="576.65" cy="60.72" r="0.5" fill="none" stroke="#000" stroke-width="0.42"/>
<circle cx="591.01" cy="60.77" r="0.5" fill="none" stroke="#000" stroke-width="0.42"/>
<circle cx="585.42" cy="60.87" r="0.5" fill="none" stroke="#000" stroke-width="0.42"/>
<circle cx="582.07" cy="61.02" r="0.5" fill="none" stroke="#000" stroke-width="0.42"/>
<circle cx="586.59" cy="61.26" r="0.5" fill="none" stroke="#000" stroke-width="0.42"/>
<circle cx="580.79" cy="61.28" r="0.5" fill="none" stroke="#000" stroke-width="0.42"/>
<circle cx="587.80" cy="61.29" r="0.5" fill="none" stroke="#000" stroke-width="0.42"/>
<circle cx="579.58" cy="61.34" r="0.5" fill="none" stroke="#000" stroke-width="0.42"/>
<circle cx="578.51" cy="61.34" r="0.5" fill="none" stroke="#000" stroke-width="0.42"/>
<circle cx="589.00" cy="61.36" r="0.5" fill="none" stroke="#000" stroke-width="0.42"/>
<circle cx="584.23" cy="61.55" r="0.5" fill="none" stroke="#000" stroke-width="0.42"/>
<circle cx="589.87" cy="61.56" r="0.5" fill="none" stroke="#000" stroke-width="0.42"/>
<circle cx="575.85" cy="61.57" r="0.5" fill="none" stroke="#000" stroke-width="0.42"/>
<circle cx="592.43" cy="61.63" r="0.5" fill="none" stroke="#000" stroke-width="0.42"/>
<circle cx="574.43" cy="61.69" r="0.5" fill="none" stroke="#000" stroke-width="0.42"/>
<circle cx="593.41" cy="61.70" r="0.5" fill="none" stroke="#000" stroke-width="0.42"/>
<circle cx="577.39" cy="61.73" r="0.5" fill="none" stroke="#000" stroke-width="0.42"/>
<circle cx="583.17" cy="61.77" r="0.5" fill="none" stroke="#000" stroke-width="0.42"/>
<circle cx="573.21" cy="61.78" r="0.5" fill="none" stroke="#000" stroke-width="0.42"/>
<circle cx="594.38" cy="61.80" r="0.5" fill="none" stroke="#000" stroke-width="0.42"/>
<circle cx="572.05" cy="61.82" r="0.5" fill="none" stroke="#000" stroke-width="0.42"/>
<circle cx="595.92" cy="61.88" r="0.5" fill="none" stroke="#000" stroke-width="0.42"/>
<circle cx="570.87" cy="61.89" r="0.5" fill="none" stroke="#000" stroke-width="0.42"/>
<circle cx="591.15" cy="61.94" r="0.5" fill="none" stroke="#000" stroke-width="0.42"/>
<circle cx="596.77" cy="62.00" r="0.5" fill="none" stroke="#000" stroke-width="0.42"/>
<circle cx="585.28" cy="62.06" r="0.5" fill="none" stroke="#000" stroke-width="0.42"/>
<circle cx="569.74" cy="62.07" r="0.5" fill="none" stroke="#000" stroke-width="0.42"/>
<circle cx="598.03" cy="62.12" r="0.5" fill="none" stroke="#000" stroke-width="0.42"/>
<circle cx="581.81" cy="62.17" r="0.5" fill="none" stroke="#000" stroke-width="0.42"/>
<circle cx="568.51" cy="62.20" r="0.5" fill="none" stroke="#000" stroke-width="0.42"/>
<circle cx="599.03" cy="62.27" r="0.5" fill="none" stroke="#000" stroke-width="0.42"/>
<circle cx="586.98" cy="62.31" r="0.5" fill="none" stroke="#000" stroke-width="0.42"/>
<circle cx="580.25" cy="62.40" r="0.5" fill="none" stroke="#000" stroke-width="0.42"/>
<circle cx="588.08" cy="62.40" r="0.5" fill="none" stroke="#000" stroke-width="0.42"/>
<circle cx="578.86" cy="62.44" r="0.5" fill="none" stroke="#000" stroke-width="0.42"/>
<circle cx="567.57" cy="62.44" r="0.5" fill="none" stroke="#000" stroke-width="0.42"/>
<circle cx="600.33" cy="62.46" r="0.5" fill="none" stroke="#000" stroke-width="0.42"/>
<circle cx="566.55" cy="62.48" r="0.5" fill="none" stroke="#000" stroke-width="0.42"/>
<circle cx="589.23" cy="62.61" r="0.5" fill="none" stroke="#000" stroke-width="0.42"/>
<circle cx="576.18" cy="62.63" r="0.5" fill="none" stroke="#000" stroke-width="0.42"/>
<circle cx="601.47" cy="62.67" r="0.5" fill="none" stroke="#000" stroke-width="0.42"/>
<circle cx="584.04" cy="62.70" r="0.5" fill="none" stroke="#000" stroke-width="0.42"/>
<circle cx="578.18" cy="62.74" r="0.5" fill="none" stroke="#000" stroke-width="0.42"/>
<circle cx="574.93" cy="62.76" r="0.5" fill="none" stroke="#000" stroke-width="0.42"/>
<circle cx="592.12" cy="62.80" r="0.5" fill="none" stroke="#000" stroke-width="0.42"/>
<circle cx="583.11" cy="62.96" r="0.5" fill="none" stroke="#000" stroke-width="0.42"/>
<circle cx="590.43" cy="63.00" r="0.5" fill="none" stroke="#000" stroke-width="0.42"/>
<circle cx="593.54" cy="63.02" r="0.5" fill="none" stroke="#000" stroke-width="0.42"/>
<circle cx="573.85" cy="63.03" r="0.5" fill="none" stroke="#000" stroke-width="0.42"/>
<circle cx="594.44" cy="63.03" r="0.5" fill="none" stroke="#000" stroke-width="0.42"/>
<circle cx="572.55" cy="63.03" r="0.5" fill="none" stroke="#000" stroke-width="0.42"/>
<circle cx="595.89" cy="63.04" r="0.5" fill="none" stroke="#000" stroke-width="0.42"/>
<circle cx="585.89" cy="63.11" r="0.5" fill="none" stroke="#000" stroke-width="0.42"/>
<circle cx="571.77" cy="63.15" r="0.5" fill="none" stroke="#000" stroke-width="0.42"/>
<circle cx="570.46" cy="63.15" r="0.5" fill="none" stroke="#000" stroke-width="0.42"/>
<circle cx="597.14" cy="63.16" r="0.5" fill="none" stroke="#000" stroke-width="0.42"/>
<circle cx="581.30" cy="63.19" r="0.5" fill="none" stroke="#000" stroke-width="0.42"/>
<circle cx="569.20" cy="63.20" r="0.5" fill="none" stroke="#000" stroke-width="0.42"/>
<circle cx="565.18" cy="63.26" r="0.5" fill="none" stroke="#000" stroke-width="0.42"/>
<circle cx="598.81" cy="63.27" r="0.5" fill="none" stroke="#000" stroke-width="0.42"/>
<circle cx="602.74" cy="63.32" r="0.5" fill="none" stroke="#000" stroke-width="0.42"/>
<circle cx="587.65" cy="63.42" r="0.5" fill="none" stroke="#000" stroke-width="0.42"/>
<circle cx="579.47" cy="63.46" r="0.5" fill="none" stroke="#000" stroke-width="0.42"/>
<circle cx="568.27" cy="63.50" r="0.5" fill="none" stroke="#000" stroke-width="0.42"/>
<circle cx="600.03" cy="63.50" r="0.5" fill="none" stroke="#000" stroke-width="0.42"/>
<circle cx="567.07" cy="63.56" r="0.5" fill="none" stroke="#000" stroke-width="0.42"/>
<circle cx="563.90" cy="63.57" r="0.5" fill="none" stroke="#000" stroke-width="0.42"/>
<circle cx="603.59" cy="63.58" r="0.5" fill="none" stroke="#000" stroke-width="0.42"/>
<circle cx="562.80" cy="63.60" r="0.5" fill="none" stroke="#000" stroke-width="0.42"/>
<circle cx="588.71" cy="63.66" r="0.5" fill="none" stroke="#000" stroke-width="0.42"/>
<circle cx="584.62" cy="63.70" r="0.5" fill="none" stroke="#000" stroke-width="0.42"/>
<circle cx="576.58" cy="63.73" r="0.5" fill="none" stroke="#000" stroke-width="0.42"/>
<circle cx="578.60" cy="63.82" r="0.5" fill="none" stroke="#000" stroke-width="0.42"/>
<circle cx="591.95" cy="63.87" r="0.5" fill="none" stroke="#000" stroke-width="0.42"/>
<circle cx="575.50" cy="63.88" r="0.5" fill="none" stroke="#000" stroke-width="0.42"/>
<circle cx="601.19" cy="63.88" r="0.5" fill="none" stroke="#000" stroke-width="0.42"/>
<circle cx="604.96" cy="63.88" r="0.5" fill="none" stroke="#000" stroke-width="0.42"/>
<circle cx="583.85" cy="63.97" r="0.5" fill="none" stroke="#000" stroke-width="0.42"/>
<circle cx="582.76" cy="64.10" r="0.5" fill="none" stroke="#000" stroke-width="0.42"/>
<circle cx="586.80" cy="64.16" r="0.5" fill="none" stroke="#000" stroke-width="0.42"/>
<circle cx="580.59" cy="64.28" r="0.5" fill="none" stroke="#000" stroke-width="0.42"/>
<circle cx="589.93" cy="64.33" r="0.5" fill="none" stroke="#000" stroke-width="0.42"/>
<circle cx="592.95" cy="64.41" r="0.5" fill="none" stroke="#000" stroke-width="0.42"/>
<circle cx="574.72" cy="64.41" r="0.5" fill="none" stroke="#000" stroke-width="0.42"/>
<circle cx="587.52" cy="64.57" r="0.5" fill="none" stroke="#000" stroke-width="0.42"/>
<circle cx="593.95" cy="64.61" r="0.5" fill="none" stroke="#000" stroke-width="0.42"/>
<circle cx="585.60" cy="64.72" r="0.5" fill="none" stroke="#000" stroke-width="0.42"/>
<circle cx="579.48" cy="64.76" r="0.5" fill="none" stroke="#000" stroke-width="0.42"/>
<circle cx="588.82" cy="64.81" r="0.5" fill="none" stroke="#000" stroke-width="0.42"/>
<circle cx="577.87" cy="64.83" r="0.5" fill="none" stroke="#000" stroke-width="0.42"/>
<circle cx="576.89" cy="64.88" r="0.5" fill="none" stroke="#000" stroke-width="0.42"/>
<circle cx="584.49" cy="65.05" r="0.5" fill="none" stroke="#000" stroke-width="0.42"/>
<circle cx="582.96" cy="65.16" r="0.5" fill="none" stroke="#000" stroke-width="0.42"/>
<circle cx="582.09" cy="65.25" r="0.5" fill="none" stroke="#000" stroke-width="0.42"/>
<circle cx="591.29" cy="65.28" r="0.5" fill="none" stroke="#000" stroke-width="0.42"/>
<circle cx="586.74" cy="65.37" r="0.5" fill="none" stroke="#000" stroke-width="0.42"/>
<circle cx="580.85" cy="65.45" r="0.5" fill="none" stroke="#000" stroke-width="0.42"/>
<circle cx="590.24" cy="65.49" r="0.5" fill="none" stroke="#000" stroke-width="0.42"/>
<circle cx="575.58" cy="65.49" r="0.5" fill="none" stroke="#000" stroke-width="0.42"/>
<circle cx="592.28" cy="65.51" r="0.5" fill="none" stroke="#000" stroke-width="0.42"/>
<circle cx="574.36" cy="65.65" r="0.5" fill="none" stroke="#000" stroke-width="0.42"/>
<circle cx="593.61" cy="65.66" r="0.5" fill="none" stroke="#000" stroke-width="0.42"/>
<circle cx="573.34" cy="65.70" r="0.5" fill="none" stroke="#000" stroke-width="0.42"/>
<circle cx="587.61" cy="65.74" r="0.5" fill="none" stroke="#000" stroke-width="0.42"/>
<circle cx="578.93" cy="65.77" r="0.5" fill="none" stroke="#000" stroke-width="0.42"/>
<circle cx="585.54" cy="66.01" r="0.5" fill="none" stroke="#000" stroke-width="0.42"/>
<circle cx="588.93" cy="66.05" r="0.5" fill="none" stroke="#000" stroke-width="0.42"/>
<circle cx="578.06" cy="66.14" r="0.5" fill="none" stroke="#000" stroke-width="0.42"/>
<circle cx="583.64" cy="67.17" r="0.5" fill="none" stroke="#000" stroke-width="0.42"/>
<circle cx="584.84" cy="67.28" r="0.5" fill="none" stroke="#000" stroke-width="0.42"/>
<circle cx="582.38" cy="67.28" r="0.5" fill="none" stroke="#000" stroke-width="0.42"/>
<circle cx="586.11" cy="67.57" r="0.5" fill="none" stroke="#000" stroke-width="0.42"/>
<circle cx="581.16" cy="67.91" r="0.5" fill="none" stroke="#000" stroke-width="0.42"/>
<circle cx="587.13" cy="67.95" r="0.5" fill="none" stroke="#000" stroke-width="0.42"/>
<circle cx="580.38" cy="67.98" r="0.5" fill="none" stroke="#000" stroke-width="0.42"/>
<circle cx="588.39" cy="68.06" r="0.5" fill="none" stroke="#000" stroke-width="0.42"/>
<circle cx="583.50" cy="68.65" r="0.5" fill="none" stroke="#000" stroke-width="0.42"/>
<circle cx="584.72" cy="69.20" r="0.5" fill="none" stroke="#000" stroke-width="0.42"/>
<circle cx="582.72" cy="69.37" r="0.5" fill="none" stroke="#000" stroke-width="0.42"/>
<circle cx="586.07" cy="69.77" r="0.5" fill="none" stroke="#000" stroke-width="0.42"/>
<circle cx="583.89" cy="69.81" r="0.5" fill="none" stroke="#000" stroke-width="0.42"/>
<circle cx="581.59" cy="69.92" r="0.5" fill="none" stroke="#000" stroke-width="0.42"/>
<circle cx="584.25" cy="70.89" r="0.5" fill="none" stroke="#000" stroke-width="0.42"/>
<circle cx="583.32" cy="71.01" r="0.5" fill="none" stroke="#000" stroke-width="0.42"/>
<circle cx="585.54" cy="71.24" r="0.5" fill="none" stroke="#000" stroke-width="0.42"/>
<circle cx="581.89" cy="71.45" r="0.5" fill="none" stroke="#000" stroke-width="0.42"/>
<circle cx="583.64" cy="72.63" r="0.5" fill="none" stroke="#000" stroke-width="0.42"/>
<circle cx="584.64" cy="72.77" r="0.5" fill="none" stroke="#000" stroke-width="0.42"/>
<circle cx="582.50" cy="72.81" r="0.5" fill="none" stroke="#000" stroke-width="0.42"/>
<circle cx="586.23" cy="73.01" r="0.5" fill="none" stroke="#000" stroke-width="0.42"/>
<circle cx="581.20" cy="73.08" r="0.5" fill="none" stroke="#000" stroke-width="0.42"/>
<circle cx="587.18" cy="73.40" r="0.5" fill="none" stroke="#000" stroke-width="0.42"/>
<circle cx="580.06" cy="73.67" r="0.5" fill="none" stroke="#000" stroke-width="0.42"/>
<circle cx="583.7" cy="27.5" r="0.85" fill="#222"/>
<circle cx="583.7" cy="29" r="0.85" fill="#222"/>
<circle cx="583.7" cy="90" r="0.85" fill="#222"/>
<circle cx="583.7" cy="91.1" r="0.85" fill="#222"/>
<circle cx="583.7" cy="103.1" r="0.85" fill="#222"/>
<circle cx="583.7" cy="132.8" r="0.85" fill="#222"/>
<text x="583.7" y="143.4" font-size="4.0" text-anchor="middle" fill="#111" stroke="#111" stroke-width="0.1">Inactive</text>
<line x1="583.7" y1="138.0" x2="583.7" y2="139.6" stroke="#444" stroke-width="0.5"/>
<line x1="644.7" y1="56.2" x2="644.7" y2="66.3" stroke="#3d3d3d" stroke-width="0.7"/>
<line x1="644.7" y1="87.8" x2="644.7" y2="90.5" stroke="#3d3d3d" stroke-width="0.7"/>
<line x1="632.3000000000001" y1="56.2" x2="657.1" y2="56.2" stroke="#3d3d3d" stroke-width="0.7"/>
<line x1="632.3000000000001" y1="90.5" x2="657.1" y2="90.5" stroke="#3d3d3d" stroke-width="0.7"/>
<rect x="619.9000000000001" y="66.3" width="49.6" height="21.5" fill="#e1812c" stroke="#3d3d3d" stroke-width="0.7"/>
<line x1="619.9000000000001" y1="84.6" x2="669.5" y2="84.6" stroke="#3d3d3d" stroke-width="0.7"/>
<circle cx="644.49" cy="58.00" r="0.5" fill="none" stroke="#3a3a3a" stroke-width="0.32"/>
<circle cx="644.77" cy="62.00" r="0.5" fill="none" stroke="#3a3a3a" stroke-width="0.32"/>
<circle cx="644.57" cy="71.00" r="0.5" fill="none" stroke="#3a3a3a" stroke-width="0.32"/>
<circle cx="644.47" cy="78.00" r="0.5" fill="none" stroke="#3a3a3a" stroke-width="0.32"/>
<circle cx="644.53" cy="84.00" r="0.5" fill="none" stroke="#3a3a3a" stroke-width="0.32"/>
<circle cx="644.77" cy="87.00" r="0.5" fill="none" stroke="#3a3a3a" stroke-width="0.32"/>
<text x="644.7" y="143.4" font-size="4.0" text-anchor="middle" fill="#111" stroke="#111" stroke-width="0.1">Active</text>
<line x1="644.7" y1="138.0" x2="644.7" y2="139.6" stroke="#444" stroke-width="0.5"/>
<text x="614.5" y="148.2" font-size="4.0" text-anchor="middle" fill="#111" stroke="#111" stroke-width="0.1">Compound Activity</text>
<text transform="translate(536.5,72.3) rotate(-90)" font-size="3.7" text-anchor="middle" fill="#222">Nuclei_RadialDistribution_RadialCV_ER_4of4</text>
<polyline points="583.5,20.400000000000002 583.5,17.6 644.7,17.6 644.7,20.400000000000002" fill="none" stroke="#444" stroke-width="0.6"/>
<text x="614.1" y="16.700000000000003" font-size="4.0" text-anchor="middle" fill="#333">****</text>
<line x1="399.6" y1="175.3" x2="399.6" y2="301.2" stroke="#ababab" stroke-width="0.9"/>
<line x1="399.6" y1="301.2" x2="520.9" y2="301.2" stroke="#ababab" stroke-width="0.9"/>
<line x1="397.8" y1="187.3" x2="399.6" y2="187.3" stroke="#444" stroke-width="0.5"/>
<text x="396.8" y="188.70000000000002" font-size="4.0" text-anchor="end" fill="#111" stroke="#111" stroke-width="0.1">10</text>
<line x1="397.8" y1="206.9" x2="399.6" y2="206.9" stroke="#444" stroke-width="0.5"/>
<text x="396.8" y="208.3" font-size="4.0" text-anchor="end" fill="#111" stroke="#111" stroke-width="0.1">5</text>
<line x1="397.8" y1="226.4" x2="399.6" y2="226.4" stroke="#444" stroke-width="0.5"/>
<text x="396.8" y="227.8" font-size="4.0" text-anchor="end" fill="#111" stroke="#111" stroke-width="0.1">0</text>
<line x1="397.8" y1="245.9" x2="399.6" y2="245.9" stroke="#444" stroke-width="0.5"/>
<text x="396.8" y="247.3" font-size="4.0" text-anchor="end" fill="#111" stroke="#111" stroke-width="0.1">−5</text>
<line x1="397.8" y1="265.4" x2="399.6" y2="265.4" stroke="#444" stroke-width="0.5"/>
<text x="396.8" y="266.79999999999995" font-size="4.0" text-anchor="end" fill="#111" stroke="#111" stroke-width="0.1">−10</text>
<line x1="397.8" y1="284.9" x2="399.6" y2="284.9" stroke="#444" stroke-width="0.5"/>
<text x="396.8" y="286.29999999999995" font-size="4.0" text-anchor="end" fill="#111" stroke="#111" stroke-width="0.1">−15</text>
<line x1="431.2" y1="188.5" x2="431.2" y2="215.0" stroke="#3d3d3d" stroke-width="0.7"/>
<line x1="431.2" y1="244.8" x2="431.2" y2="288.5" stroke="#3d3d3d" stroke-width="0.7"/>
<line x1="418.4" y1="188.5" x2="444.0" y2="188.5" stroke="#3d3d3d" stroke-width="0.7"/>
<line x1="418.4" y1="288.5" x2="444.0" y2="288.5" stroke="#3d3d3d" stroke-width="0.7"/>
<rect x="405.59999999999997" y="215.0" width="51.2" height="29.80000000000001" fill="#3274a1" stroke="#3d3d3d" stroke-width="0.7"/>
<line x1="405.59999999999997" y1="228.1" x2="456.8" y2="228.1" stroke="#3d3d3d" stroke-width="0.7"/>
<circle cx="431.14" cy="190.17" r="0.5" fill="none" stroke="#000" stroke-width="0.42"/>
<circle cx="432.51" cy="190.36" r="0.5" fill="none" stroke="#000" stroke-width="0.42"/>
<circle cx="430.53" cy="191.19" r="0.5" fill="none" stroke="#000" stroke-width="0.42"/>
<circle cx="431.66" cy="191.69" r="0.5" fill="none" stroke="#000" stroke-width="0.42"/>
<circle cx="430.85" cy="192.66" r="0.5" fill="none" stroke="#000" stroke-width="0.42"/>
<circle cx="432.57" cy="192.82" r="0.5" fill="none" stroke="#000" stroke-width="0.42"/>
<circle cx="429.38" cy="192.99" r="0.5" fill="none" stroke="#000" stroke-width="0.42"/>
<circle cx="433.45" cy="193.30" r="0.5" fill="none" stroke="#000" stroke-width="0.42"/>
<circle cx="428.22" cy="193.45" r="0.5" fill="none" stroke="#000" stroke-width="0.42"/>
<circle cx="431.02" cy="196.29" r="0.5" fill="none" stroke="#000" stroke-width="0.42"/>
<circle cx="431.08" cy="198.03" r="0.5" fill="none" stroke="#000" stroke-width="0.42"/>
<circle cx="432.59" cy="198.44" r="0.5" fill="none" stroke="#000" stroke-width="0.42"/>
<circle cx="429.84" cy="198.78" r="0.5" fill="none" stroke="#000" stroke-width="0.42"/>
<circle cx="433.36" cy="199.07" r="0.5" fill="none" stroke="#000" stroke-width="0.42"/>
<circle cx="431.05" cy="201.72" r="0.5" fill="none" stroke="#000" stroke-width="0.42"/>
<circle cx="432.14" cy="201.83" r="0.5" fill="none" stroke="#000" stroke-width="0.42"/>
<circle cx="430.06" cy="202.38" r="0.5" fill="none" stroke="#000" stroke-width="0.42"/>
<circle cx="431.32" cy="203.40" r="0.5" fill="none" stroke="#000" stroke-width="0.42"/>
<circle cx="431.94" cy="204.50" r="0.5" fill="none" stroke="#000" stroke-width="0.42"/>
<circle cx="430.69" cy="204.51" r="0.5" fill="none" stroke="#000" stroke-width="0.42"/>
<circle cx="431.36" cy="205.72" r="0.5" fill="none" stroke="#000" stroke-width="0.42"/>
<circle cx="432.10" cy="205.77" r="0.5" fill="none" stroke="#000" stroke-width="0.42"/>
<circle cx="429.94" cy="205.86" r="0.5" fill="none" stroke="#000" stroke-width="0.42"/>
<circle cx="433.73" cy="206.11" r="0.5" fill="none" stroke="#000" stroke-width="0.42"/>
<circle cx="430.98" cy="207.06" r="0.5" fill="none" stroke="#000" stroke-width="0.42"/>
<circle cx="432.23" cy="207.14" r="0.5" fill="none" stroke="#000" stroke-width="0.42"/>
<circle cx="430.04" cy="207.23" r="0.5" fill="none" stroke="#000" stroke-width="0.42"/>
<circle cx="431.08" cy="208.46" r="0.5" fill="none" stroke="#000" stroke-width="0.42"/>
<circle cx="432.37" cy="208.46" r="0.5" fill="none" stroke="#000" stroke-width="0.42"/>
<circle cx="429.82" cy="208.51" r="0.5" fill="none" stroke="#000" stroke-width="0.42"/>
<circle cx="433.37" cy="209.23" r="0.5" fill="none" stroke="#000" stroke-width="0.42"/>
<circle cx="429.13" cy="209.46" r="0.5" fill="none" stroke="#000" stroke-width="0.42"/>
<circle cx="431.02" cy="209.64" r="0.5" fill="none" stroke="#000" stroke-width="0.42"/>
<circle cx="432.55" cy="209.65" r="0.5" fill="none" stroke="#000" stroke-width="0.42"/>
<circle cx="429.89" cy="209.85" r="0.5" fill="none" stroke="#000" stroke-width="0.42"/>
<circle cx="433.75" cy="210.39" r="0.5" fill="none" stroke="#000" stroke-width="0.42"/>
<circle cx="428.41" cy="210.53" r="0.5" fill="none" stroke="#000" stroke-width="0.42"/>
<circle cx="431.27" cy="210.94" r="0.5" fill="none" stroke="#000" stroke-width="0.42"/>
<circle cx="432.17" cy="211.03" r="0.5" fill="none" stroke="#000" stroke-width="0.42"/>
<circle cx="429.83" cy="211.06" r="0.5" fill="none" stroke="#000" stroke-width="0.42"/>
<circle cx="434.78" cy="211.15" r="0.5" fill="none" stroke="#000" stroke-width="0.42"/>
<circle cx="427.01" cy="211.42" r="0.5" fill="none" stroke="#000" stroke-width="0.42"/>
<circle cx="435.64" cy="211.48" r="0.5" fill="none" stroke="#000" stroke-width="0.42"/>
<circle cx="431.36" cy="212.28" r="0.5" fill="none" stroke="#000" stroke-width="0.42"/>
<circle cx="432.54" cy="212.35" r="0.5" fill="none" stroke="#000" stroke-width="0.42"/>
<circle cx="429.82" cy="212.61" r="0.5" fill="none" stroke="#000" stroke-width="0.42"/>
<circle cx="433.73" cy="213.15" r="0.5" fill="none" stroke="#000" stroke-width="0.42"/>
<circle cx="428.92" cy="213.29" r="0.5" fill="none" stroke="#000" stroke-width="0.42"/>
<circle cx="431.72" cy="213.35" r="0.5" fill="none" stroke="#000" stroke-width="0.42"/>
<circle cx="430.43" cy="213.72" r="0.5" fill="none" stroke="#000" stroke-width="0.42"/>
<circle cx="431.14" cy="215.30" r="0.5" fill="none" stroke="#000" stroke-width="0.42"/>
<circle cx="432.59" cy="215.40" r="0.5" fill="none" stroke="#000" stroke-width="0.42"/>
<circle cx="429.94" cy="215.51" r="0.5" fill="none" stroke="#000" stroke-width="0.42"/>
<circle cx="433.32" cy="216.05" r="0.5" fill="none" stroke="#000" stroke-width="0.42"/>
<circle cx="428.72" cy="216.22" r="0.5" fill="none" stroke="#000" stroke-width="0.42"/>
<circle cx="434.46" cy="216.32" r="0.5" fill="none" stroke="#000" stroke-width="0.42"/>
<circle cx="431.13" cy="216.51" r="0.5" fill="none" stroke="#000" stroke-width="0.42"/>
<circle cx="427.96" cy="216.54" r="0.5" fill="none" stroke="#000" stroke-width="0.42"/>
<circle cx="432.14" cy="217.33" r="0.5" fill="none" stroke="#000" stroke-width="0.42"/>
<circle cx="430.47" cy="217.53" r="0.5" fill="none" stroke="#000" stroke-width="0.42"/>
<circle cx="429.69" cy="217.81" r="0.5" fill="none" stroke="#000" stroke-width="0.42"/>
<circle cx="433.75" cy="217.88" r="0.5" fill="none" stroke="#000" stroke-width="0.42"/>
<circle cx="428.56" cy="218.10" r="0.5" fill="none" stroke="#000" stroke-width="0.42"/>
<circle cx="431.07" cy="218.94" r="0.5" fill="none" stroke="#000" stroke-width="0.42"/>
<circle cx="432.28" cy="219.07" r="0.5" fill="none" stroke="#000" stroke-width="0.42"/>
<circle cx="430.28" cy="219.60" r="0.5" fill="none" stroke="#000" stroke-width="0.42"/>
<circle cx="433.49" cy="219.84" r="0.5" fill="none" stroke="#000" stroke-width="0.42"/>
<circle cx="429.00" cy="219.96" r="0.5" fill="none" stroke="#000" stroke-width="0.42"/>
<circle cx="434.56" cy="219.97" r="0.5" fill="none" stroke="#000" stroke-width="0.42"/>
<circle cx="427.51" cy="220.06" r="0.5" fill="none" stroke="#000" stroke-width="0.42"/>
<circle cx="431.12" cy="220.12" r="0.5" fill="none" stroke="#000" stroke-width="0.42"/>
<circle cx="432.47" cy="220.54" r="0.5" fill="none" stroke="#000" stroke-width="0.42"/>
<circle cx="435.94" cy="220.55" r="0.5" fill="none" stroke="#000" stroke-width="0.42"/>
<circle cx="430.08" cy="221.12" r="0.5" fill="none" stroke="#000" stroke-width="0.42"/>
<circle cx="431.18" cy="221.54" r="0.5" fill="none" stroke="#000" stroke-width="0.42"/>
<circle cx="432.37" cy="222.28" r="0.5" fill="none" stroke="#000" stroke-width="0.42"/>
<circle cx="430.02" cy="222.42" r="0.5" fill="none" stroke="#000" stroke-width="0.42"/>
<circle cx="433.52" cy="222.42" r="0.5" fill="none" stroke="#000" stroke-width="0.42"/>
<circle cx="431.37" cy="222.81" r="0.5" fill="none" stroke="#000" stroke-width="0.42"/>
<circle cx="428.75" cy="223.28" r="0.5" fill="none" stroke="#000" stroke-width="0.42"/>
<circle cx="434.70" cy="223.39" r="0.5" fill="none" stroke="#000" stroke-width="0.42"/>
<circle cx="432.57" cy="223.56" r="0.5" fill="none" stroke="#000" stroke-width="0.42"/>
<circle cx="430.22" cy="223.62" r="0.5" fill="none" stroke="#000" stroke-width="0.42"/>
<circle cx="433.34" cy="223.76" r="0.5" fill="none" stroke="#000" stroke-width="0.42"/>
<circle cx="427.98" cy="223.83" r="0.5" fill="none" stroke="#000" stroke-width="0.42"/>
<circle cx="435.97" cy="223.92" r="0.5" fill="none" stroke="#000" stroke-width="0.42"/>
<circle cx="431.03" cy="223.98" r="0.5" fill="none" stroke="#000" stroke-width="0.42"/>
<circle cx="426.48" cy="224.35" r="0.5" fill="none" stroke="#000" stroke-width="0.42"/>
<circle cx="436.80" cy="224.36" r="0.5" fill="none" stroke="#000" stroke-width="0.42"/>
<circle cx="431.55" cy="225.06" r="0.5" fill="none" stroke="#000" stroke-width="0.42"/>
<circle cx="430.86" cy="225.15" r="0.5" fill="none" stroke="#000" stroke-width="0.42"/>
<circle cx="432.88" cy="225.34" r="0.5" fill="none" stroke="#000" stroke-width="0.42"/>
<circle cx="429.66" cy="225.79" r="0.5" fill="none" stroke="#000" stroke-width="0.42"/>
<circle cx="431.01" cy="226.18" r="0.5" fill="none" stroke="#000" stroke-width="0.42"/>
<circle cx="431.53" cy="227.21" r="0.5" fill="none" stroke="#000" stroke-width="0.42"/>
<circle cx="430.81" cy="227.33" r="0.5" fill="none" stroke="#000" stroke-width="0.42"/>
<circle cx="433.07" cy="227.43" r="0.5" fill="none" stroke="#000" stroke-width="0.42"/>
<circle cx="429.72" cy="227.55" r="0.5" fill="none" stroke="#000" stroke-width="0.42"/>
<circle cx="434.17" cy="227.56" r="0.5" fill="none" stroke="#000" stroke-width="0.42"/>
<circle cx="428.34" cy="227.89" r="0.5" fill="none" stroke="#000" stroke-width="0.42"/>
<circle cx="435.36" cy="227.92" r="0.5" fill="none" stroke="#000" stroke-width="0.42"/>
<circle cx="426.97" cy="227.97" r="0.5" fill="none" stroke="#000" stroke-width="0.42"/>
<circle cx="436.40" cy="227.97" r="0.5" fill="none" stroke="#000" stroke-width="0.42"/>
<circle cx="431.17" cy="228.89" r="0.5" fill="none" stroke="#000" stroke-width="0.42"/>
<circle cx="432.17" cy="228.89" r="0.5" fill="none" stroke="#000" stroke-width="0.42"/>
<circle cx="430.10" cy="228.97" r="0.5" fill="none" stroke="#000" stroke-width="0.42"/>
<circle cx="433.41" cy="229.02" r="0.5" fill="none" stroke="#000" stroke-width="0.42"/>
<circle cx="428.90" cy="229.53" r="0.5" fill="none" stroke="#000" stroke-width="0.42"/>
<circle cx="431.14" cy="230.26" r="0.5" fill="none" stroke="#000" stroke-width="0.42"/>
<circle cx="432.26" cy="230.55" r="0.5" fill="none" stroke="#000" stroke-width="0.42"/>
<circle cx="429.98" cy="230.58" r="0.5" fill="none" stroke="#000" stroke-width="0.42"/>
<circle cx="433.55" cy="230.78" r="0.5" fill="none" stroke="#000" stroke-width="0.42"/>
<circle cx="429.14" cy="230.93" r="0.5" fill="none" stroke="#000" stroke-width="0.42"/>
<circle cx="434.87" cy="231.07" r="0.5" fill="none" stroke="#000" stroke-width="0.42"/>
<circle cx="427.93" cy="231.08" r="0.5" fill="none" stroke="#000" stroke-width="0.42"/>
<circle cx="435.97" cy="231.26" r="0.5" fill="none" stroke="#000" stroke-width="0.42"/>
<circle cx="426.49" cy="231.38" r="0.5" fill="none" stroke="#000" stroke-width="0.42"/>
<circle cx="431.44" cy="231.56" r="0.5" fill="none" stroke="#000" stroke-width="0.42"/>
<circle cx="431.08" cy="233.08" r="0.5" fill="none" stroke="#000" stroke-width="0.42"/>
<circle cx="432.16" cy="233.36" r="0.5" fill="none" stroke="#000" stroke-width="0.42"/>
<circle cx="430.05" cy="233.82" r="0.5" fill="none" stroke="#000" stroke-width="0.42"/>
<circle cx="433.62" cy="234.18" r="0.5" fill="none" stroke="#000" stroke-width="0.42"/>
<circle cx="431.12" cy="234.29" r="0.5" fill="none" stroke="#000" stroke-width="0.42"/>
<circle cx="432.42" cy="234.96" r="0.5" fill="none" stroke="#000" stroke-width="0.42"/>
<circle cx="429.94" cy="235.26" r="0.5" fill="none" stroke="#000" stroke-width="0.42"/>
<circle cx="431.43" cy="236.01" r="0.5" fill="none" stroke="#000" stroke-width="0.42"/>
<circle cx="432.33" cy="236.67" r="0.5" fill="none" stroke="#000" stroke-width="0.42"/>
<circle cx="430.04" cy="236.79" r="0.5" fill="none" stroke="#000" stroke-width="0.42"/>
<circle cx="431.22" cy="237.26" r="0.5" fill="none" stroke="#000" stroke-width="0.42"/>
<circle cx="433.69" cy="237.36" r="0.5" fill="none" stroke="#000" stroke-width="0.42"/>
<circle cx="429.14" cy="237.40" r="0.5" fill="none" stroke="#000" stroke-width="0.42"/>
<circle cx="434.66" cy="237.75" r="0.5" fill="none" stroke="#000" stroke-width="0.42"/>
<circle cx="432.32" cy="237.88" r="0.5" fill="none" stroke="#000" stroke-width="0.42"/>
<circle cx="430.11" cy="238.10" r="0.5" fill="none" stroke="#000" stroke-width="0.42"/>
<circle cx="427.53" cy="238.20" r="0.5" fill="none" stroke="#000" stroke-width="0.42"/>
<circle cx="431.16" cy="238.57" r="0.5" fill="none" stroke="#000" stroke-width="0.42"/>
<circle cx="433.67" cy="238.69" r="0.5" fill="none" stroke="#000" stroke-width="0.42"/>
<circle cx="432.49" cy="239.06" r="0.5" fill="none" stroke="#000" stroke-width="0.42"/>
<circle cx="429.25" cy="239.20" r="0.5" fill="none" stroke="#000" stroke-width="0.42"/>
<circle cx="428.50" cy="239.21" r="0.5" fill="none" stroke="#000" stroke-width="0.42"/>
<circle cx="434.59" cy="239.26" r="0.5" fill="none" stroke="#000" stroke-width="0.42"/>
<circle cx="427.42" cy="239.42" r="0.5" fill="none" stroke="#000" stroke-width="0.42"/>
<circle cx="431.13" cy="239.93" r="0.5" fill="none" stroke="#000" stroke-width="0.42"/>
<circle cx="432.21" cy="240.58" r="0.5" fill="none" stroke="#000" stroke-width="0.42"/>
<circle cx="431.22" cy="241.24" r="0.5" fill="none" stroke="#000" stroke-width="0.42"/>
<circle cx="430.24" cy="241.28" r="0.5" fill="none" stroke="#000" stroke-width="0.42"/>
<circle cx="432.89" cy="241.60" r="0.5" fill="none" stroke="#000" stroke-width="0.42"/>
<circle cx="429.08" cy="241.91" r="0.5" fill="none" stroke="#000" stroke-width="0.42"/>
<circle cx="434.18" cy="242.09" r="0.5" fill="none" stroke="#000" stroke-width="0.42"/>
<circle cx="427.68" cy="242.18" r="0.5" fill="none" stroke="#000" stroke-width="0.42"/>
<circle cx="431.68" cy="242.38" r="0.5" fill="none" stroke="#000" stroke-width="0.42"/>
<circle cx="430.63" cy="242.61" r="0.5" fill="none" stroke="#000" stroke-width="0.42"/>
<circle cx="432.87" cy="242.86" r="0.5" fill="none" stroke="#000" stroke-width="0.42"/>
<circle cx="429.41" cy="242.93" r="0.5" fill="none" stroke="#000" stroke-width="0.42"/>
<circle cx="435.30" cy="242.94" r="0.5" fill="none" stroke="#000" stroke-width="0.42"/>
<circle cx="426.79" cy="243.03" r="0.5" fill="none" stroke="#000" stroke-width="0.42"/>
<circle cx="434.12" cy="243.44" r="0.5" fill="none" stroke="#000" stroke-width="0.42"/>
<circle cx="428.15" cy="243.49" r="0.5" fill="none" stroke="#000" stroke-width="0.42"/>
<circle cx="431.06" cy="244.29" r="0.5" fill="none" stroke="#000" stroke-width="0.42"/>
<circle cx="432.29" cy="244.38" r="0.5" fill="none" stroke="#000" stroke-width="0.42"/>
<circle cx="430.11" cy="244.38" r="0.5" fill="none" stroke="#000" stroke-width="0.42"/>
<circle cx="435.04" cy="244.39" r="0.5" fill="none" stroke="#000" stroke-width="0.42"/>
<circle cx="433.29" cy="244.60" r="0.5" fill="none" stroke="#000" stroke-width="0.42"/>
<circle cx="428.81" cy="244.87" r="0.5" fill="none" stroke="#000" stroke-width="0.42"/>
<circle cx="427.64" cy="244.92" r="0.5" fill="none" stroke="#000" stroke-width="0.42"/>
<circle cx="430.96" cy="245.61" r="0.5" fill="none" stroke="#000" stroke-width="0.42"/>
<circle cx="431.22" cy="248.11" r="0.5" fill="none" stroke="#000" stroke-width="0.42"/>
<circle cx="432.56" cy="248.66" r="0.5" fill="none" stroke="#000" stroke-width="0.42"/>
<circle cx="431.22" cy="250.60" r="0.5" fill="none" stroke="#000" stroke-width="0.42"/>
<circle cx="432.47" cy="251.30" r="0.5" fill="none" stroke="#000" stroke-width="0.42"/>
<circle cx="431.36" cy="252.04" r="0.5" fill="none" stroke="#000" stroke-width="0.42"/>
<circle cx="431.94" cy="253.16" r="0.5" fill="none" stroke="#000" stroke-width="0.42"/>
<circle cx="430.83" cy="253.24" r="0.5" fill="none" stroke="#000" stroke-width="0.42"/>
<circle cx="432.90" cy="254.05" r="0.5" fill="none" stroke="#000" stroke-width="0.42"/>
<circle cx="429.57" cy="254.10" r="0.5" fill="none" stroke="#000" stroke-width="0.42"/>
<circle cx="431.01" cy="254.75" r="0.5" fill="none" stroke="#000" stroke-width="0.42"/>
<circle cx="432.54" cy="255.44" r="0.5" fill="none" stroke="#000" stroke-width="0.42"/>
<circle cx="431.14" cy="255.94" r="0.5" fill="none" stroke="#000" stroke-width="0.42"/>
<circle cx="430.04" cy="255.99" r="0.5" fill="none" stroke="#000" stroke-width="0.42"/>
<circle cx="433.12" cy="256.49" r="0.5" fill="none" stroke="#000" stroke-width="0.42"/>
<circle cx="431.09" cy="257.25" r="0.5" fill="none" stroke="#000" stroke-width="0.42"/>
<circle cx="431.04" cy="258.68" r="0.5" fill="none" stroke="#000" stroke-width="0.42"/>
<circle cx="432.51" cy="259.19" r="0.5" fill="none" stroke="#000" stroke-width="0.42"/>
<circle cx="431.25" cy="261.06" r="0.5" fill="none" stroke="#000" stroke-width="0.42"/>
<circle cx="432.14" cy="261.55" r="0.5" fill="none" stroke="#000" stroke-width="0.42"/>
<circle cx="429.81" cy="262.02" r="0.5" fill="none" stroke="#000" stroke-width="0.42"/>
<circle cx="431.13" cy="263.23" r="0.5" fill="none" stroke="#000" stroke-width="0.42"/>
<circle cx="432.10" cy="263.63" r="0.5" fill="none" stroke="#000" stroke-width="0.42"/>
<circle cx="430.22" cy="264.19" r="0.5" fill="none" stroke="#000" stroke-width="0.42"/>
<circle cx="431.04" cy="264.84" r="0.5" fill="none" stroke="#000" stroke-width="0.42"/>
<circle cx="431.09" cy="267.36" r="0.5" fill="none" stroke="#000" stroke-width="0.42"/>
<circle cx="431.14" cy="269.17" r="0.5" fill="none" stroke="#000" stroke-width="0.42"/>
<circle cx="432.36" cy="269.49" r="0.5" fill="none" stroke="#000" stroke-width="0.42"/>
<circle cx="431.17" cy="273.54" r="0.5" fill="none" stroke="#000" stroke-width="0.42"/>
<circle cx="431.26" cy="276.84" r="0.5" fill="none" stroke="#000" stroke-width="0.42"/>
<circle cx="431.28" cy="279.80" r="0.5" fill="none" stroke="#000" stroke-width="0.42"/>
<circle cx="432.32" cy="280.38" r="0.5" fill="none" stroke="#000" stroke-width="0.42"/>
<circle cx="431.00" cy="285.60" r="0.5" fill="none" stroke="#000" stroke-width="0.42"/>
<circle cx="432.59" cy="286.18" r="0.5" fill="none" stroke="#000" stroke-width="0.42"/>
<circle cx="431.30" cy="287.09" r="0.5" fill="none" stroke="#000" stroke-width="0.42"/>
<circle cx="431.2" cy="296.0" r="0.85" fill="#222"/>
<text x="431.2" y="306.59999999999997" font-size="4.0" text-anchor="middle" fill="#111" stroke="#111" stroke-width="0.1">Inactive</text>
<line x1="431.2" y1="301.2" x2="431.2" y2="302.8" stroke="#444" stroke-width="0.5"/>
<line x1="496.0" y1="207.7" x2="496.0" y2="224.0" stroke="#3d3d3d" stroke-width="0.7"/>
<line x1="496.0" y1="268.1" x2="496.0" y2="286.1" stroke="#3d3d3d" stroke-width="0.7"/>
<line x1="483.4" y1="207.7" x2="508.6" y2="207.7" stroke="#3d3d3d" stroke-width="0.7"/>
<line x1="483.4" y1="286.1" x2="508.6" y2="286.1" stroke="#3d3d3d" stroke-width="0.7"/>
<rect x="470.8" y="224.0" width="50.4" height="44.10000000000002" fill="#e1812c" stroke="#3d3d3d" stroke-width="0.7"/>
<line x1="470.8" y1="241.5" x2="521.2" y2="241.5" stroke="#3d3d3d" stroke-width="0.7"/>
<circle cx="495.79" cy="212.00" r="0.5" fill="none" stroke="#3a3a3a" stroke-width="0.32"/>
<circle cx="495.97" cy="229.10" r="0.5" fill="none" stroke="#3a3a3a" stroke-width="0.32"/>
<circle cx="497.28" cy="230.00" r="0.5" fill="none" stroke="#3a3a3a" stroke-width="0.32"/>
<circle cx="496.25" cy="235.40" r="0.5" fill="none" stroke="#3a3a3a" stroke-width="0.32"/>
<circle cx="495.78" cy="245.00" r="0.5" fill="none" stroke="#3a3a3a" stroke-width="0.32"/>
<circle cx="495.75" cy="253.50" r="0.5" fill="none" stroke="#3a3a3a" stroke-width="0.32"/>
<circle cx="495.99" cy="267.60" r="0.5" fill="none" stroke="#3a3a3a" stroke-width="0.32"/>
<circle cx="495.96" cy="277.50" r="0.5" fill="none" stroke="#3a3a3a" stroke-width="0.32"/>
<text x="496.0" y="306.59999999999997" font-size="4.0" text-anchor="middle" fill="#111" stroke="#111" stroke-width="0.1">Active</text>
<line x1="496.0" y1="301.2" x2="496.0" y2="302.8" stroke="#444" stroke-width="0.5"/>
<text x="463.2" y="311.4" font-size="4.0" text-anchor="middle" fill="#111" stroke="#111" stroke-width="0.1">Compound Activity</text>
<text transform="translate(387.0,237.5) rotate(-90)" font-size="3.82" text-anchor="middle" fill="#222">Cells_Number_Object_Number</text>
<polyline points="431.3,182.4 431.3,179.6 495.7,179.6 495.7,182.4" fill="none" stroke="#444" stroke-width="0.6"/>
<text x="463.5" y="178.7" font-size="4.0" text-anchor="middle" fill="#333">*</text>
<line x1="557.3" y1="173.6" x2="557.3" y2="300.5" stroke="#ababab" stroke-width="0.9"/>
<line x1="557.3" y1="300.5" x2="684.8" y2="300.5" stroke="#ababab" stroke-width="0.9"/>
<line x1="555.5" y1="189.2" x2="557.3" y2="189.2" stroke="#444" stroke-width="0.5"/>
<text x="554.5" y="190.6" font-size="4.0" text-anchor="end" fill="#111" stroke="#111" stroke-width="0.1">0.10</text>
<line x1="555.5" y1="210.0" x2="557.3" y2="210.0" stroke="#444" stroke-width="0.5"/>
<text x="554.5" y="211.4" font-size="4.0" text-anchor="end" fill="#111" stroke="#111" stroke-width="0.1">0.05</text>
<line x1="555.5" y1="230.8" x2="557.3" y2="230.8" stroke="#444" stroke-width="0.5"/>
<text x="554.5" y="232.20000000000002" font-size="4.0" text-anchor="end" fill="#111" stroke="#111" stroke-width="0.1">0.00</text>
<line x1="555.5" y1="251.6" x2="557.3" y2="251.6" stroke="#444" stroke-width="0.5"/>
<text x="554.5" y="253.0" font-size="4.0" text-anchor="end" fill="#111" stroke="#111" stroke-width="0.1">−0.05</text>
<line x1="555.5" y1="272.4" x2="557.3" y2="272.4" stroke="#444" stroke-width="0.5"/>
<text x="554.5" y="273.79999999999995" font-size="4.0" text-anchor="end" fill="#111" stroke="#111" stroke-width="0.1">−0.10</text>
<line x1="555.5" y1="293.2" x2="557.3" y2="293.2" stroke="#444" stroke-width="0.5"/>
<text x="554.5" y="294.59999999999997" font-size="4.0" text-anchor="end" fill="#111" stroke="#111" stroke-width="0.1">−0.15</text>
<line x1="589.2" y1="204.8" x2="589.2" y2="226.9" stroke="#3d3d3d" stroke-width="0.7"/>
<line x1="589.2" y1="247.0" x2="589.2" y2="274.3" stroke="#3d3d3d" stroke-width="0.7"/>
<line x1="576.4000000000001" y1="204.8" x2="602.0" y2="204.8" stroke="#3d3d3d" stroke-width="0.7"/>
<line x1="576.4000000000001" y1="274.3" x2="602.0" y2="274.3" stroke="#3d3d3d" stroke-width="0.7"/>
<rect x="563.6" y="226.9" width="51.2" height="20.099999999999994" fill="#3274a1" stroke="#3d3d3d" stroke-width="0.7"/>
<line x1="563.6" y1="237.3" x2="614.8000000000001" y2="237.3" stroke="#3d3d3d" stroke-width="0.7"/>
<circle cx="589.06" cy="205.27" r="0.5" fill="none" stroke="#000" stroke-width="0.42"/>
<circle cx="590.31" cy="205.85" r="0.5" fill="none" stroke="#000" stroke-width="0.42"/>
<circle cx="587.85" cy="205.88" r="0.5" fill="none" stroke="#000" stroke-width="0.42"/>
<circle cx="589.11" cy="207.02" r="0.5" fill="none" stroke="#000" stroke-width="0.42"/>
<circle cx="590.39" cy="207.32" r="0.5" fill="none" stroke="#000" stroke-width="0.42"/>
<circle cx="589.22" cy="208.32" r="0.5" fill="none" stroke="#000" stroke-width="0.42"/>
<circle cx="590.40" cy="208.92" r="0.5" fill="none" stroke="#000" stroke-width="0.42"/>
<circle cx="587.95" cy="209.19" r="0.5" fill="none" stroke="#000" stroke-width="0.42"/>
<circle cx="588.96" cy="209.69" r="0.5" fill="none" stroke="#000" stroke-width="0.42"/>
<circle cx="590.11" cy="210.24" r="0.5" fill="none" stroke="#000" stroke-width="0.42"/>
<circle cx="588.54" cy="210.74" r="0.5" fill="none" stroke="#000" stroke-width="0.42"/>
<circle cx="587.32" cy="210.83" r="0.5" fill="none" stroke="#000" stroke-width="0.42"/>
<circle cx="589.81" cy="211.41" r="0.5" fill="none" stroke="#000" stroke-width="0.42"/>
<circle cx="589.08" cy="213.26" r="0.5" fill="none" stroke="#000" stroke-width="0.42"/>
<circle cx="590.48" cy="213.57" r="0.5" fill="none" stroke="#000" stroke-width="0.42"/>
<circle cx="588.10" cy="213.84" r="0.5" fill="none" stroke="#000" stroke-width="0.42"/>
<circle cx="591.58" cy="213.94" r="0.5" fill="none" stroke="#000" stroke-width="0.42"/>
<circle cx="587.02" cy="214.35" r="0.5" fill="none" stroke="#000" stroke-width="0.42"/>
<circle cx="589.21" cy="215.45" r="0.5" fill="none" stroke="#000" stroke-width="0.42"/>
<circle cx="590.31" cy="215.68" r="0.5" fill="none" stroke="#000" stroke-width="0.42"/>
<circle cx="587.95" cy="215.72" r="0.5" fill="none" stroke="#000" stroke-width="0.42"/>
<circle cx="591.28" cy="216.44" r="0.5" fill="none" stroke="#000" stroke-width="0.42"/>
<circle cx="587.05" cy="216.59" r="0.5" fill="none" stroke="#000" stroke-width="0.42"/>
<circle cx="589.20" cy="217.13" r="0.5" fill="none" stroke="#000" stroke-width="0.42"/>
<circle cx="590.15" cy="217.24" r="0.5" fill="none" stroke="#000" stroke-width="0.42"/>
<circle cx="588.26" cy="217.33" r="0.5" fill="none" stroke="#000" stroke-width="0.42"/>
<circle cx="592.69" cy="217.43" r="0.5" fill="none" stroke="#000" stroke-width="0.42"/>
<circle cx="585.81" cy="217.44" r="0.5" fill="none" stroke="#000" stroke-width="0.42"/>
<circle cx="593.77" cy="217.54" r="0.5" fill="none" stroke="#000" stroke-width="0.42"/>
<circle cx="591.31" cy="217.59" r="0.5" fill="none" stroke="#000" stroke-width="0.42"/>
<circle cx="587.15" cy="218.01" r="0.5" fill="none" stroke="#000" stroke-width="0.42"/>
<circle cx="589.03" cy="218.42" r="0.5" fill="none" stroke="#000" stroke-width="0.42"/>
<circle cx="590.28" cy="218.58" r="0.5" fill="none" stroke="#000" stroke-width="0.42"/>
<circle cx="588.30" cy="218.75" r="0.5" fill="none" stroke="#000" stroke-width="0.42"/>
<circle cx="591.31" cy="219.26" r="0.5" fill="none" stroke="#000" stroke-width="0.42"/>
<circle cx="589.20" cy="219.61" r="0.5" fill="none" stroke="#000" stroke-width="0.42"/>
<circle cx="586.89" cy="219.67" r="0.5" fill="none" stroke="#000" stroke-width="0.42"/>
<circle cx="590.22" cy="219.77" r="0.5" fill="none" stroke="#000" stroke-width="0.42"/>
<circle cx="592.86" cy="219.82" r="0.5" fill="none" stroke="#000" stroke-width="0.42"/>
<circle cx="588.01" cy="220.19" r="0.5" fill="none" stroke="#000" stroke-width="0.42"/>
<circle cx="588.96" cy="220.99" r="0.5" fill="none" stroke="#000" stroke-width="0.42"/>
<circle cx="590.34" cy="221.34" r="0.5" fill="none" stroke="#000" stroke-width="0.42"/>
<circle cx="587.80" cy="221.38" r="0.5" fill="none" stroke="#000" stroke-width="0.42"/>
<circle cx="591.60" cy="221.47" r="0.5" fill="none" stroke="#000" stroke-width="0.42"/>
<circle cx="589.38" cy="222.44" r="0.5" fill="none" stroke="#000" stroke-width="0.42"/>
<circle cx="590.55" cy="222.94" r="0.5" fill="none" stroke="#000" stroke-width="0.42"/>
<circle cx="588.97" cy="223.86" r="0.5" fill="none" stroke="#000" stroke-width="0.42"/>
<circle cx="590.44" cy="224.22" r="0.5" fill="none" stroke="#000" stroke-width="0.42"/>
<circle cx="588.53" cy="224.87" r="0.5" fill="none" stroke="#000" stroke-width="0.42"/>
<circle cx="587.46" cy="225.00" r="0.5" fill="none" stroke="#000" stroke-width="0.42"/>
<circle cx="591.40" cy="225.22" r="0.5" fill="none" stroke="#000" stroke-width="0.42"/>
<circle cx="589.68" cy="225.29" r="0.5" fill="none" stroke="#000" stroke-width="0.42"/>
<circle cx="586.14" cy="225.46" r="0.5" fill="none" stroke="#000" stroke-width="0.42"/>
<circle cx="592.71" cy="225.80" r="0.5" fill="none" stroke="#000" stroke-width="0.42"/>
<circle cx="584.97" cy="225.92" r="0.5" fill="none" stroke="#000" stroke-width="0.42"/>
<circle cx="594.03" cy="225.96" r="0.5" fill="none" stroke="#000" stroke-width="0.42"/>
<circle cx="588.40" cy="226.25" r="0.5" fill="none" stroke="#000" stroke-width="0.42"/>
<circle cx="590.01" cy="226.78" r="0.5" fill="none" stroke="#000" stroke-width="0.42"/>
<circle cx="590.77" cy="227.22" r="0.5" fill="none" stroke="#000" stroke-width="0.42"/>
<circle cx="588.99" cy="227.87" r="0.5" fill="none" stroke="#000" stroke-width="0.42"/>
<circle cx="588.17" cy="227.93" r="0.5" fill="none" stroke="#000" stroke-width="0.42"/>
<circle cx="586.92" cy="228.10" r="0.5" fill="none" stroke="#000" stroke-width="0.42"/>
<circle cx="592.21" cy="228.12" r="0.5" fill="none" stroke="#000" stroke-width="0.42"/>
<circle cx="590.35" cy="228.32" r="0.5" fill="none" stroke="#000" stroke-width="0.42"/>
<circle cx="585.82" cy="228.87" r="0.5" fill="none" stroke="#000" stroke-width="0.42"/>
<circle cx="588.42" cy="228.97" r="0.5" fill="none" stroke="#000" stroke-width="0.42"/>
<circle cx="593.31" cy="229.02" r="0.5" fill="none" stroke="#000" stroke-width="0.42"/>
<circle cx="587.48" cy="229.14" r="0.5" fill="none" stroke="#000" stroke-width="0.42"/>
<circle cx="591.73" cy="229.15" r="0.5" fill="none" stroke="#000" stroke-width="0.42"/>
<circle cx="584.35" cy="229.19" r="0.5" fill="none" stroke="#000" stroke-width="0.42"/>
<circle cx="594.16" cy="229.22" r="0.5" fill="none" stroke="#000" stroke-width="0.42"/>
<circle cx="589.86" cy="229.34" r="0.5" fill="none" stroke="#000" stroke-width="0.42"/>
<circle cx="588.84" cy="230.17" r="0.5" fill="none" stroke="#000" stroke-width="0.42"/>
<circle cx="590.89" cy="230.31" r="0.5" fill="none" stroke="#000" stroke-width="0.42"/>
<circle cx="587.58" cy="230.34" r="0.5" fill="none" stroke="#000" stroke-width="0.42"/>
<circle cx="592.11" cy="230.40" r="0.5" fill="none" stroke="#000" stroke-width="0.42"/>
<circle cx="586.27" cy="230.45" r="0.5" fill="none" stroke="#000" stroke-width="0.42"/>
<circle cx="589.76" cy="230.52" r="0.5" fill="none" stroke="#000" stroke-width="0.42"/>
<circle cx="593.28" cy="230.57" r="0.5" fill="none" stroke="#000" stroke-width="0.42"/>
<circle cx="584.94" cy="230.72" r="0.5" fill="none" stroke="#000" stroke-width="0.42"/>
<circle cx="594.28" cy="230.92" r="0.5" fill="none" stroke="#000" stroke-width="0.42"/>
<circle cx="584.14" cy="230.99" r="0.5" fill="none" stroke="#000" stroke-width="0.42"/>
<circle cx="595.40" cy="231.03" r="0.5" fill="none" stroke="#000" stroke-width="0.42"/>
<circle cx="582.86" cy="231.05" r="0.5" fill="none" stroke="#000" stroke-width="0.42"/>
<circle cx="596.55" cy="231.06" r="0.5" fill="none" stroke="#000" stroke-width="0.42"/>
<circle cx="581.65" cy="231.23" r="0.5" fill="none" stroke="#000" stroke-width="0.42"/>
<circle cx="597.90" cy="231.31" r="0.5" fill="none" stroke="#000" stroke-width="0.42"/>
<circle cx="588.75" cy="231.41" r="0.5" fill="none" stroke="#000" stroke-width="0.42"/>
<circle cx="591.73" cy="231.44" r="0.5" fill="none" stroke="#000" stroke-width="0.42"/>
<circle cx="586.89" cy="231.46" r="0.5" fill="none" stroke="#000" stroke-width="0.42"/>
<circle cx="580.43" cy="231.51" r="0.5" fill="none" stroke="#000" stroke-width="0.42"/>
<circle cx="589.69" cy="231.91" r="0.5" fill="none" stroke="#000" stroke-width="0.42"/>
<circle cx="592.43" cy="232.00" r="0.5" fill="none" stroke="#000" stroke-width="0.42"/>
<circle cx="585.62" cy="232.15" r="0.5" fill="none" stroke="#000" stroke-width="0.42"/>
<circle cx="593.84" cy="232.25" r="0.5" fill="none" stroke="#000" stroke-width="0.42"/>
<circle cx="584.66" cy="232.27" r="0.5" fill="none" stroke="#000" stroke-width="0.42"/>
<circle cx="594.82" cy="232.37" r="0.5" fill="none" stroke="#000" stroke-width="0.42"/>
<circle cx="583.29" cy="232.39" r="0.5" fill="none" stroke="#000" stroke-width="0.42"/>
<circle cx="587.85" cy="232.53" r="0.5" fill="none" stroke="#000" stroke-width="0.42"/>
<circle cx="590.76" cy="232.83" r="0.5" fill="none" stroke="#000" stroke-width="0.42"/>
<circle cx="589.20" cy="233.05" r="0.5" fill="none" stroke="#000" stroke-width="0.42"/>
<circle cx="586.78" cy="233.28" r="0.5" fill="none" stroke="#000" stroke-width="0.42"/>
<circle cx="592.27" cy="233.39" r="0.5" fill="none" stroke="#000" stroke-width="0.42"/>
<circle cx="585.78" cy="233.54" r="0.5" fill="none" stroke="#000" stroke-width="0.42"/>
<circle cx="587.97" cy="233.78" r="0.5" fill="none" stroke="#000" stroke-width="0.42"/>
<circle cx="593.19" cy="233.80" r="0.5" fill="none" stroke="#000" stroke-width="0.42"/>
<circle cx="590.12" cy="233.92" r="0.5" fill="none" stroke="#000" stroke-width="0.42"/>
<circle cx="584.72" cy="234.01" r="0.5" fill="none" stroke="#000" stroke-width="0.42"/>
<circle cx="589.33" cy="234.45" r="0.5" fill="none" stroke="#000" stroke-width="0.42"/>
<circle cx="591.43" cy="234.45" r="0.5" fill="none" stroke="#000" stroke-width="0.42"/>
<circle cx="587.01" cy="234.71" r="0.5" fill="none" stroke="#000" stroke-width="0.42"/>
<circle cx="585.64" cy="234.76" r="0.5" fill="none" stroke="#000" stroke-width="0.42"/>
<circle cx="592.51" cy="234.88" r="0.5" fill="none" stroke="#000" stroke-width="0.42"/>
<circle cx="593.66" cy="234.89" r="0.5" fill="none" stroke="#000" stroke-width="0.42"/>
<circle cx="587.90" cy="234.95" r="0.5" fill="none" stroke="#000" stroke-width="0.42"/>
<circle cx="590.40" cy="235.17" r="0.5" fill="none" stroke="#000" stroke-width="0.42"/>
<circle cx="584.67" cy="235.55" r="0.5" fill="none" stroke="#000" stroke-width="0.42"/>
<circle cx="589.31" cy="235.68" r="0.5" fill="none" stroke="#000" stroke-width="0.42"/>
<circle cx="591.30" cy="235.84" r="0.5" fill="none" stroke="#000" stroke-width="0.42"/>
<circle cx="586.46" cy="235.85" r="0.5" fill="none" stroke="#000" stroke-width="0.42"/>
<circle cx="593.21" cy="235.93" r="0.5" fill="none" stroke="#000" stroke-width="0.42"/>
<circle cx="587.99" cy="236.14" r="0.5" fill="none" stroke="#000" stroke-width="0.42"/>
<circle cx="590.35" cy="236.53" r="0.5" fill="none" stroke="#000" stroke-width="0.42"/>
<circle cx="585.14" cy="236.56" r="0.5" fill="none" stroke="#000" stroke-width="0.42"/>
<circle cx="594.23" cy="236.58" r="0.5" fill="none" stroke="#000" stroke-width="0.42"/>
<circle cx="583.97" cy="236.65" r="0.5" fill="none" stroke="#000" stroke-width="0.42"/>
<circle cx="595.60" cy="236.66" r="0.5" fill="none" stroke="#000" stroke-width="0.42"/>
<circle cx="582.98" cy="236.80" r="0.5" fill="none" stroke="#000" stroke-width="0.42"/>
<circle cx="589.41" cy="236.85" r="0.5" fill="none" stroke="#000" stroke-width="0.42"/>
<circle cx="591.35" cy="237.08" r="0.5" fill="none" stroke="#000" stroke-width="0.42"/>
<circle cx="587.10" cy="237.10" r="0.5" fill="none" stroke="#000" stroke-width="0.42"/>
<circle cx="592.80" cy="237.10" r="0.5" fill="none" stroke="#000" stroke-width="0.42"/>
<circle cx="596.78" cy="237.18" r="0.5" fill="none" stroke="#000" stroke-width="0.42"/>
<circle cx="581.96" cy="237.22" r="0.5" fill="none" stroke="#000" stroke-width="0.42"/>
<circle cx="587.87" cy="237.31" r="0.5" fill="none" stroke="#000" stroke-width="0.42"/>
<circle cx="585.89" cy="237.56" r="0.5" fill="none" stroke="#000" stroke-width="0.42"/>
<circle cx="590.55" cy="237.75" r="0.5" fill="none" stroke="#000" stroke-width="0.42"/>
<circle cx="593.61" cy="237.79" r="0.5" fill="none" stroke="#000" stroke-width="0.42"/>
<circle cx="584.65" cy="237.79" r="0.5" fill="none" stroke="#000" stroke-width="0.42"/>
<circle cx="595.17" cy="237.83" r="0.5" fill="none" stroke="#000" stroke-width="0.42"/>
<circle cx="583.35" cy="237.88" r="0.5" fill="none" stroke="#000" stroke-width="0.42"/>
<circle cx="589.38" cy="238.05" r="0.5" fill="none" stroke="#000" stroke-width="0.42"/>
<circle cx="598.03" cy="238.08" r="0.5" fill="none" stroke="#000" stroke-width="0.42"/>
<circle cx="592.04" cy="238.13" r="0.5" fill="none" stroke="#000" stroke-width="0.42"/>
<circle cx="586.72" cy="238.25" r="0.5" fill="none" stroke="#000" stroke-width="0.42"/>
<circle cx="595.96" cy="238.30" r="0.5" fill="none" stroke="#000" stroke-width="0.42"/>
<circle cx="582.46" cy="238.34" r="0.5" fill="none" stroke="#000" stroke-width="0.42"/>
<circle cx="581.11" cy="238.43" r="0.5" fill="none" stroke="#000" stroke-width="0.42"/>
<circle cx="587.96" cy="238.53" r="0.5" fill="none" stroke="#000" stroke-width="0.42"/>
<circle cx="579.97" cy="238.58" r="0.5" fill="none" stroke="#000" stroke-width="0.42"/>
<circle cx="599.19" cy="238.66" r="0.5" fill="none" stroke="#000" stroke-width="0.42"/>
<circle cx="578.73" cy="238.67" r="0.5" fill="none" stroke="#000" stroke-width="0.42"/>
<circle cx="585.51" cy="238.71" r="0.5" fill="none" stroke="#000" stroke-width="0.42"/>
<circle cx="590.57" cy="238.96" r="0.5" fill="none" stroke="#000" stroke-width="0.42"/>
<circle cx="591.41" cy="239.19" r="0.5" fill="none" stroke="#000" stroke-width="0.42"/>
<circle cx="589.14" cy="239.56" r="0.5" fill="none" stroke="#000" stroke-width="0.42"/>
<circle cx="588.29" cy="239.81" r="0.5" fill="none" stroke="#000" stroke-width="0.42"/>
<circle cx="590.24" cy="240.34" r="0.5" fill="none" stroke="#000" stroke-width="0.42"/>
<circle cx="591.29" cy="240.42" r="0.5" fill="none" stroke="#000" stroke-width="0.42"/>
<circle cx="587.09" cy="240.57" r="0.5" fill="none" stroke="#000" stroke-width="0.42"/>
<circle cx="589.07" cy="240.71" r="0.5" fill="none" stroke="#000" stroke-width="0.42"/>
<circle cx="592.51" cy="240.74" r="0.5" fill="none" stroke="#000" stroke-width="0.42"/>
<circle cx="585.97" cy="240.88" r="0.5" fill="none" stroke="#000" stroke-width="0.42"/>
<circle cx="593.66" cy="240.95" r="0.5" fill="none" stroke="#000" stroke-width="0.42"/>
<circle cx="588.25" cy="240.99" r="0.5" fill="none" stroke="#000" stroke-width="0.42"/>
<circle cx="584.52" cy="241.07" r="0.5" fill="none" stroke="#000" stroke-width="0.42"/>
<circle cx="594.85" cy="241.34" r="0.5" fill="none" stroke="#000" stroke-width="0.42"/>
<circle cx="590.21" cy="241.50" r="0.5" fill="none" stroke="#000" stroke-width="0.42"/>
<circle cx="583.47" cy="241.55" r="0.5" fill="none" stroke="#000" stroke-width="0.42"/>
<circle cx="591.53" cy="241.65" r="0.5" fill="none" stroke="#000" stroke-width="0.42"/>
<circle cx="596.05" cy="241.67" r="0.5" fill="none" stroke="#000" stroke-width="0.42"/>
<circle cx="582.30" cy="241.70" r="0.5" fill="none" stroke="#000" stroke-width="0.42"/>
<circle cx="589.10" cy="241.90" r="0.5" fill="none" stroke="#000" stroke-width="0.42"/>
<circle cx="587.07" cy="241.91" r="0.5" fill="none" stroke="#000" stroke-width="0.42"/>
<circle cx="592.87" cy="241.96" r="0.5" fill="none" stroke="#000" stroke-width="0.42"/>
<circle cx="597.38" cy="242.01" r="0.5" fill="none" stroke="#000" stroke-width="0.42"/>
<circle cx="581.31" cy="242.02" r="0.5" fill="none" stroke="#000" stroke-width="0.42"/>
<circle cx="587.84" cy="242.16" r="0.5" fill="none" stroke="#000" stroke-width="0.42"/>
<circle cx="585.63" cy="242.22" r="0.5" fill="none" stroke="#000" stroke-width="0.42"/>
<circle cx="593.65" cy="242.25" r="0.5" fill="none" stroke="#000" stroke-width="0.42"/>
<circle cx="590.18" cy="242.73" r="0.5" fill="none" stroke="#000" stroke-width="0.42"/>
<circle cx="591.73" cy="242.82" r="0.5" fill="none" stroke="#000" stroke-width="0.42"/>
<circle cx="589.40" cy="243.09" r="0.5" fill="none" stroke="#000" stroke-width="0.42"/>
<circle cx="588.26" cy="243.35" r="0.5" fill="none" stroke="#000" stroke-width="0.42"/>
<circle cx="586.93" cy="243.48" r="0.5" fill="none" stroke="#000" stroke-width="0.42"/>
<circle cx="592.46" cy="243.72" r="0.5" fill="none" stroke="#000" stroke-width="0.42"/>
<circle cx="590.31" cy="243.96" r="0.5" fill="none" stroke="#000" stroke-width="0.42"/>
<circle cx="591.28" cy="244.02" r="0.5" fill="none" stroke="#000" stroke-width="0.42"/>
<circle cx="585.95" cy="244.19" r="0.5" fill="none" stroke="#000" stroke-width="0.42"/>
<circle cx="589.08" cy="244.26" r="0.5" fill="none" stroke="#000" stroke-width="0.42"/>
<circle cx="593.69" cy="244.37" r="0.5" fill="none" stroke="#000" stroke-width="0.42"/>
<circle cx="584.82" cy="244.41" r="0.5" fill="none" stroke="#000" stroke-width="0.42"/>
<circle cx="587.90" cy="244.69" r="0.5" fill="none" stroke="#000" stroke-width="0.42"/>
<circle cx="587.11" cy="244.84" r="0.5" fill="none" stroke="#000" stroke-width="0.42"/>
<circle cx="592.56" cy="244.97" r="0.5" fill="none" stroke="#000" stroke-width="0.42"/>
<circle cx="591.01" cy="245.06" r="0.5" fill="none" stroke="#000" stroke-width="0.42"/>
<circle cx="589.00" cy="245.42" r="0.5" fill="none" stroke="#000" stroke-width="0.42"/>
<circle cx="585.95" cy="245.46" r="0.5" fill="none" stroke="#000" stroke-width="0.42"/>
<circle cx="593.75" cy="245.83" r="0.5" fill="none" stroke="#000" stroke-width="0.42"/>
<circle cx="587.97" cy="245.96" r="0.5" fill="none" stroke="#000" stroke-width="0.42"/>
<circle cx="590.43" cy="246.06" r="0.5" fill="none" stroke="#000" stroke-width="0.42"/>
<circle cx="591.55" cy="246.25" r="0.5" fill="none" stroke="#000" stroke-width="0.42"/>
<circle cx="586.78" cy="246.49" r="0.5" fill="none" stroke="#000" stroke-width="0.42"/>
<circle cx="589.01" cy="246.61" r="0.5" fill="none" stroke="#000" stroke-width="0.42"/>
<circle cx="592.69" cy="246.71" r="0.5" fill="none" stroke="#000" stroke-width="0.42"/>
<circle cx="585.51" cy="246.72" r="0.5" fill="none" stroke="#000" stroke-width="0.42"/>
<circle cx="584.79" cy="246.77" r="0.5" fill="none" stroke="#000" stroke-width="0.42"/>
<circle cx="594.30" cy="246.91" r="0.5" fill="none" stroke="#000" stroke-width="0.42"/>
<circle cx="583.28" cy="247.03" r="0.5" fill="none" stroke="#000" stroke-width="0.42"/>
<circle cx="595.44" cy="247.09" r="0.5" fill="none" stroke="#000" stroke-width="0.42"/>
<circle cx="590.16" cy="247.42" r="0.5" fill="none" stroke="#000" stroke-width="0.42"/>
<circle cx="589.11" cy="248.08" r="0.5" fill="none" stroke="#000" stroke-width="0.42"/>
<circle cx="588.07" cy="248.32" r="0.5" fill="none" stroke="#000" stroke-width="0.42"/>
<circle cx="590.30" cy="248.78" r="0.5" fill="none" stroke="#000" stroke-width="0.42"/>
<circle cx="591.42" cy="248.80" r="0.5" fill="none" stroke="#000" stroke-width="0.42"/>
<circle cx="586.80" cy="248.94" r="0.5" fill="none" stroke="#000" stroke-width="0.42"/>
<circle cx="592.64" cy="249.10" r="0.5" fill="none" stroke="#000" stroke-width="0.42"/>
<circle cx="585.89" cy="249.22" r="0.5" fill="none" stroke="#000" stroke-width="0.42"/>
<circle cx="589.17" cy="250.42" r="0.5" fill="none" stroke="#000" stroke-width="0.42"/>
<circle cx="590.48" cy="250.66" r="0.5" fill="none" stroke="#000" stroke-width="0.42"/>
<circle cx="588.04" cy="251.26" r="0.5" fill="none" stroke="#000" stroke-width="0.42"/>
<circle cx="589.01" cy="252.08" r="0.5" fill="none" stroke="#000" stroke-width="0.42"/>
<circle cx="590.19" cy="252.93" r="0.5" fill="none" stroke="#000" stroke-width="0.42"/>
<circle cx="589.37" cy="253.30" r="0.5" fill="none" stroke="#000" stroke-width="0.42"/>
<circle cx="588.04" cy="253.74" r="0.5" fill="none" stroke="#000" stroke-width="0.42"/>
<circle cx="590.87" cy="254.07" r="0.5" fill="none" stroke="#000" stroke-width="0.42"/>
<circle cx="589.21" cy="254.85" r="0.5" fill="none" stroke="#000" stroke-width="0.42"/>
<circle cx="588.22" cy="254.94" r="0.5" fill="none" stroke="#000" stroke-width="0.42"/>
<circle cx="590.29" cy="255.12" r="0.5" fill="none" stroke="#000" stroke-width="0.42"/>
<circle cx="591.43" cy="255.69" r="0.5" fill="none" stroke="#000" stroke-width="0.42"/>
<circle cx="589.13" cy="256.08" r="0.5" fill="none" stroke="#000" stroke-width="0.42"/>
<circle cx="587.81" cy="256.11" r="0.5" fill="none" stroke="#000" stroke-width="0.42"/>
<circle cx="590.37" cy="256.60" r="0.5" fill="none" stroke="#000" stroke-width="0.42"/>
<circle cx="586.89" cy="256.61" r="0.5" fill="none" stroke="#000" stroke-width="0.42"/>
<circle cx="588.62" cy="257.21" r="0.5" fill="none" stroke="#000" stroke-width="0.42"/>
<circle cx="589.18" cy="258.50" r="0.5" fill="none" stroke="#000" stroke-width="0.42"/>
<circle cx="589.76" cy="259.63" r="0.5" fill="none" stroke="#000" stroke-width="0.42"/>
<circle cx="588.73" cy="259.92" r="0.5" fill="none" stroke="#000" stroke-width="0.42"/>
<circle cx="589.04" cy="263.14" r="0.5" fill="none" stroke="#000" stroke-width="0.42"/>
<circle cx="589.44" cy="264.57" r="0.5" fill="none" stroke="#000" stroke-width="0.42"/>
<circle cx="590.16" cy="264.83" r="0.5" fill="none" stroke="#000" stroke-width="0.42"/>
<circle cx="588.23" cy="265.44" r="0.5" fill="none" stroke="#000" stroke-width="0.42"/>
<circle cx="589.04" cy="266.23" r="0.5" fill="none" stroke="#000" stroke-width="0.42"/>
<circle cx="590.50" cy="266.33" r="0.5" fill="none" stroke="#000" stroke-width="0.42"/>
<circle cx="589.08" cy="269.34" r="0.5" fill="none" stroke="#000" stroke-width="0.42"/>
<circle cx="588.99" cy="271.20" r="0.5" fill="none" stroke="#000" stroke-width="0.42"/>
<circle cx="590.37" cy="271.23" r="0.5" fill="none" stroke="#000" stroke-width="0.42"/>
<circle cx="588.22" cy="271.28" r="0.5" fill="none" stroke="#000" stroke-width="0.42"/>
<circle cx="589.2" cy="186.8" r="0.85" fill="#222"/>
<circle cx="589.2" cy="283.7" r="0.85" fill="#222"/>
<circle cx="589.2" cy="285.1" r="0.85" fill="#222"/>
<circle cx="589.2" cy="287.3" r="0.85" fill="#222"/>
<text x="589.2" y="305.9" font-size="4.0" text-anchor="middle" fill="#111" stroke="#111" stroke-width="0.1">Inactive</text>
<line x1="589.2" y1="300.5" x2="589.2" y2="302.1" stroke="#444" stroke-width="0.5"/>
<line x1="652.4" y1="205.3" x2="652.4" y2="237.2" stroke="#3d3d3d" stroke-width="0.7"/>
<line x1="652.4" y1="259.2" x2="652.4" y2="273.2" stroke="#3d3d3d" stroke-width="0.7"/>
<line x1="639.65" y1="205.3" x2="665.15" y2="205.3" stroke="#3d3d3d" stroke-width="0.7"/>
<line x1="639.65" y1="273.2" x2="665.15" y2="273.2" stroke="#3d3d3d" stroke-width="0.7"/>
<rect x="626.9" y="237.2" width="51.0" height="22.0" fill="#e1812c" stroke="#3d3d3d" stroke-width="0.7"/>
<line x1="626.9" y1="256.3" x2="677.9" y2="256.3" stroke="#3d3d3d" stroke-width="0.7"/>
<circle cx="652.57" cy="222.50" r="0.5" fill="none" stroke="#3a3a3a" stroke-width="0.32"/>
<circle cx="652.59" cy="237.00" r="0.5" fill="none" stroke="#3a3a3a" stroke-width="0.32"/>
<circle cx="652.64" cy="250.00" r="0.5" fill="none" stroke="#3a3a3a" stroke-width="0.32"/>
<circle cx="652.18" cy="254.00" r="0.5" fill="none" stroke="#3a3a3a" stroke-width="0.32"/>
<circle cx="652.34" cy="258.00" r="0.5" fill="none" stroke="#3a3a3a" stroke-width="0.32"/>
<circle cx="652.20" cy="260.00" r="0.5" fill="none" stroke="#3a3a3a" stroke-width="0.32"/>
<circle cx="652.53" cy="264.50" r="0.5" fill="none" stroke="#3a3a3a" stroke-width="0.32"/>
<circle cx="652.38" cy="271.00" r="0.5" fill="none" stroke="#3a3a3a" stroke-width="0.32"/>
<circle cx="652.4" cy="294.7" r="0.85" fill="#222"/>
<text x="652.4" y="305.9" font-size="4.0" text-anchor="middle" fill="#111" stroke="#111" stroke-width="0.1">Active</text>
<line x1="652.4" y1="300.5" x2="652.4" y2="302.1" stroke="#444" stroke-width="0.5"/>
<text x="620.4" y="310.7" font-size="4.0" text-anchor="middle" fill="#111" stroke="#111" stroke-width="0.1">Compound Activity</text>
<text transform="translate(541.4,235.8) rotate(-90)" font-size="3.95" text-anchor="middle" fill="#222">Nuclei_Texture_Entropy_Mito_10_3</text>
<polyline points="589.2,180.5 589.2,177.7 652.3,177.7 652.3,180.5" fill="none" stroke="#444" stroke-width="0.6"/>
<text x="620.75" y="177.39999999999998" font-size="4.0" text-anchor="middle" fill="#333">**</text>
<line x1="684.3" y1="172.8" x2="684.3" y2="300.9" stroke="#a8a8a8" stroke-width="1.1"/>
<text x="366.6" y="9.0" font-size="12.8" fill="#3a3a3a">(b)</text>
<text x="366.8" y="164.9" font-size="12.8" fill="#3a3a3a">(c)</text>
</svg>
</body></html>
